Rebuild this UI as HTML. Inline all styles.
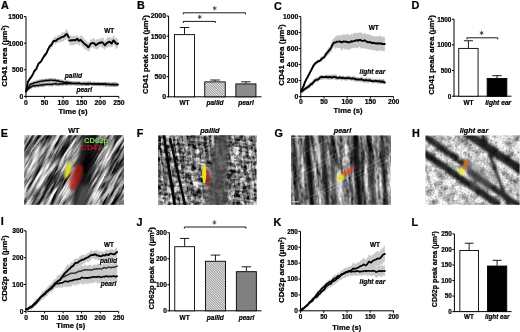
<!DOCTYPE html>
<html><head><meta charset="utf-8"><style>
html,body{margin:0;padding:0;background:#fff;width:520px;height:332px;overflow:hidden;}
body{position:relative;font-family:"Liberation Sans",sans-serif;}
</style></head><body>
<div style="position:absolute;left:0;top:0;width:520px;height:332px">
<svg width="520" height="332" viewBox="0 0 520 332" style="position:absolute;left:0;top:0;will-change:transform">
<defs><pattern id="hatch" patternUnits="userSpaceOnUse" width="1.7" height="1.7" patternTransform="rotate(-45)"><rect width="1.7" height="1.7" fill="#eee"/><line x1="0" y1="0" x2="0" y2="1.7" stroke="#333" stroke-width="0.85"/></pattern></defs>
<g font-family='"Liberation Sans", sans-serif'>
<text transform="translate(0.90 9.20) scale(0.1)" font-size="108.0" text-anchor="start" font-weight="bold" fill="#000" stroke="#000" stroke-width="2.20">A</text>
<text transform="translate(137.00 9.20) scale(0.1)" font-size="108.0" text-anchor="start" font-weight="bold" fill="#000" stroke="#000" stroke-width="2.20">B</text>
<text transform="translate(274.00 9.50) scale(0.1)" font-size="108.0" text-anchor="start" font-weight="bold" fill="#000" stroke="#000" stroke-width="2.20">C</text>
<text transform="translate(411.60 9.30) scale(0.1)" font-size="108.0" text-anchor="start" font-weight="bold" fill="#000" stroke="#000" stroke-width="2.20">D</text>
<text transform="translate(0.80 137.00) scale(0.1)" font-size="108.0" text-anchor="start" font-weight="bold" fill="#000" stroke="#000" stroke-width="2.20">E</text>
<text transform="translate(136.80 137.00) scale(0.1)" font-size="108.0" text-anchor="start" font-weight="bold" fill="#000" stroke="#000" stroke-width="2.20">F</text>
<text transform="translate(274.60 137.00) scale(0.1)" font-size="108.0" text-anchor="start" font-weight="bold" fill="#000" stroke="#000" stroke-width="2.20">G</text>
<text transform="translate(412.00 137.00) scale(0.1)" font-size="108.0" text-anchor="start" font-weight="bold" fill="#000" stroke="#000" stroke-width="2.20">H</text>
<text transform="translate(0.80 225.00) scale(0.1)" font-size="108.0" text-anchor="start" font-weight="bold" fill="#000" stroke="#000" stroke-width="2.20">I</text>
<text transform="translate(136.60 225.90) scale(0.1)" font-size="108.0" text-anchor="start" font-weight="bold" fill="#000" stroke="#000" stroke-width="2.20">J</text>
<text transform="translate(273.60 225.60) scale(0.1)" font-size="108.0" text-anchor="start" font-weight="bold" fill="#000" stroke="#000" stroke-width="2.20">K</text>
<text transform="translate(411.60 225.60) scale(0.1)" font-size="108.0" text-anchor="start" font-weight="bold" fill="#000" stroke="#000" stroke-width="2.20">L</text>
<line x1="26.00" y1="16.60" x2="26.00" y2="96.90" stroke="#000" stroke-width="1.0"/>
<line x1="25.50" y1="96.40" x2="118.80" y2="96.40" stroke="#000" stroke-width="1.0"/>
<line x1="24.00" y1="96.40" x2="26.00" y2="96.40" stroke="#000" stroke-width="1.0"/>
<text transform="translate(23.40 98.85) scale(0.1)" font-size="68.0" text-anchor="end" font-weight="bold" fill="#000" stroke="#000" stroke-width="2.20">0</text>
<line x1="24.00" y1="69.80" x2="26.00" y2="69.80" stroke="#000" stroke-width="1.0"/>
<text transform="translate(23.40 72.25) scale(0.1)" font-size="68.0" text-anchor="end" font-weight="bold" fill="#000" stroke="#000" stroke-width="2.20">500</text>
<line x1="24.00" y1="43.20" x2="26.00" y2="43.20" stroke="#000" stroke-width="1.0"/>
<text transform="translate(23.40 45.65) scale(0.1)" font-size="68.0" text-anchor="end" font-weight="bold" fill="#000" stroke="#000" stroke-width="2.20">1000</text>
<line x1="24.00" y1="16.60" x2="26.00" y2="16.60" stroke="#000" stroke-width="1.0"/>
<text transform="translate(23.40 19.05) scale(0.1)" font-size="68.0" text-anchor="end" font-weight="bold" fill="#000" stroke="#000" stroke-width="2.20">1500</text>
<line x1="26.00" y1="96.40" x2="26.00" y2="98.40" stroke="#000" stroke-width="1.0"/>
<text transform="translate(26.00 104.60) scale(0.1)" font-size="68.0" text-anchor="middle" font-weight="bold" fill="#000" stroke="#000" stroke-width="2.20">0</text>
<line x1="44.56" y1="96.40" x2="44.56" y2="98.40" stroke="#000" stroke-width="1.0"/>
<text transform="translate(44.56 104.60) scale(0.1)" font-size="68.0" text-anchor="middle" font-weight="bold" fill="#000" stroke="#000" stroke-width="2.20">50</text>
<line x1="63.12" y1="96.40" x2="63.12" y2="98.40" stroke="#000" stroke-width="1.0"/>
<text transform="translate(63.12 104.60) scale(0.1)" font-size="68.0" text-anchor="middle" font-weight="bold" fill="#000" stroke="#000" stroke-width="2.20">100</text>
<line x1="81.68" y1="96.40" x2="81.68" y2="98.40" stroke="#000" stroke-width="1.0"/>
<text transform="translate(81.68 104.60) scale(0.1)" font-size="68.0" text-anchor="middle" font-weight="bold" fill="#000" stroke="#000" stroke-width="2.20">150</text>
<line x1="100.24" y1="96.40" x2="100.24" y2="98.40" stroke="#000" stroke-width="1.0"/>
<text transform="translate(100.24 104.60) scale(0.1)" font-size="68.0" text-anchor="middle" font-weight="bold" fill="#000" stroke="#000" stroke-width="2.20">200</text>
<line x1="118.80" y1="96.40" x2="118.80" y2="98.40" stroke="#000" stroke-width="1.0"/>
<text transform="translate(118.80 104.60) scale(0.1)" font-size="68.0" text-anchor="middle" font-weight="bold" fill="#000" stroke="#000" stroke-width="2.20">250</text>
<text transform="translate(7.00 56.00) rotate(-90) scale(0.1)" font-size="80.0" text-anchor="middle" font-weight="bold" fill="#000" stroke="#000" stroke-width="2.20">CD41 area (μm<tspan baseline-shift="super" font-size="46.0">2</tspan>)</text>
<text transform="translate(73.00 114.00) scale(0.1)" font-size="76.0" text-anchor="middle" font-weight="bold" fill="#000" stroke="#000" stroke-width="2.20">Time (s)</text>
<polygon points="26.00,89.61 26.95,85.81 27.90,81.10 28.77,79.30 29.63,77.83 30.50,76.49 31.20,75.79 31.90,74.63 32.60,73.15 33.30,72.00 34.00,70.44 34.76,69.15 35.51,68.47 36.27,67.91 37.02,66.67 37.78,63.95 38.53,61.98 39.29,61.24 40.04,60.91 40.80,60.40 41.51,58.82 42.22,57.62 42.93,57.19 43.64,53.69 44.36,53.14 45.07,53.01 45.78,51.87 46.49,51.12 47.20,48.78 48.13,47.30 49.07,45.01 50.00,43.16 50.72,43.99 51.44,42.05 52.16,40.40 52.88,39.04 53.60,37.64 54.40,37.83 55.20,36.11 56.00,37.05 56.75,37.00 57.50,35.16 58.25,35.10 59.00,35.35 60.00,34.67 61.00,34.40 61.87,31.88 62.73,32.47 63.60,32.26 64.55,31.79 65.50,30.86 66.70,27.93 67.47,30.73 68.23,30.90 69.00,32.83 69.00,42.32 68.23,42.11 67.47,39.84 66.70,38.74 65.50,39.94 64.55,40.00 63.60,41.01 62.73,41.83 61.87,41.73 61.00,42.26 60.00,41.53 59.00,43.19 58.25,42.72 57.50,43.14 56.75,43.22 56.00,44.08 55.20,44.83 54.40,43.33 53.60,43.93 52.88,45.67 52.16,47.38 51.44,47.17 50.72,49.14 50.00,49.21 49.07,49.48 48.13,51.92 47.20,53.25 46.49,56.30 45.78,56.43 45.07,57.74 44.36,57.01 43.64,58.33 42.93,59.50 42.22,61.27 41.51,61.60 40.80,62.37 40.04,64.25 39.29,64.54 38.53,65.55 37.78,66.86 37.02,68.53 36.27,71.08 35.51,70.52 34.76,73.52 34.00,73.01 33.30,75.39 32.60,77.00 31.90,77.30 31.20,78.79 30.50,79.82 29.63,80.75 28.77,81.80 27.90,84.13 26.95,88.58 26.00,92.25" fill="#cacaca"/>
<polygon points="69.40,34.39 70.22,35.65 71.04,34.49 71.86,36.73 72.68,35.88 73.50,35.22 74.25,35.38 75.00,36.55 75.75,35.45 76.50,35.80 77.25,34.26 78.00,35.90 78.75,37.34 79.50,37.22 80.25,34.84 81.00,36.33 81.80,35.21 82.60,36.65 83.40,36.67 84.20,39.81 85.00,39.05 85.83,40.37 86.65,40.73 87.47,42.00 88.30,42.43 89.03,42.20 89.77,42.12 90.50,39.37 91.40,39.35 92.30,39.21 93.20,38.44 94.03,37.90 94.87,39.12 95.70,41.59 96.63,38.94 97.57,39.02 98.50,39.40 99.33,38.93 100.15,38.47 100.97,38.41 101.80,37.86 102.58,37.28 103.35,37.82 104.12,39.33 104.90,41.45 105.95,39.15 107.00,37.89 107.73,37.48 108.47,36.70 109.20,37.08 110.03,36.70 110.87,38.64 111.70,37.27 112.60,37.52 113.50,35.43 114.28,35.24 115.05,38.07 115.82,38.49 116.60,37.46 117.30,39.06 118.00,39.18 118.00,47.03 117.30,47.83 116.60,48.75 115.82,49.16 115.05,45.88 114.28,45.32 113.50,45.01 112.60,46.49 111.70,47.46 110.87,46.40 110.03,47.80 109.20,47.09 108.47,46.28 107.73,47.25 107.00,48.25 105.95,47.18 104.90,50.17 104.12,48.73 103.35,48.21 102.58,48.28 101.80,47.08 100.97,47.28 100.15,45.65 99.33,47.82 98.50,48.49 97.57,50.30 96.63,48.50 95.70,49.24 94.87,48.58 94.03,48.40 93.20,47.33 92.30,46.80 91.40,47.85 90.50,48.32 89.77,50.45 89.03,51.24 88.30,51.78 87.47,50.39 86.65,50.50 85.83,49.77 85.00,48.83 84.20,49.39 83.40,47.52 82.60,45.75 81.80,47.22 81.00,45.04 80.25,43.08 79.50,46.45 78.75,44.96 78.00,43.96 77.25,44.22 76.50,44.50 75.75,42.94 75.00,45.28 74.25,44.85 73.50,45.58 72.68,44.89 71.86,45.62 71.04,45.31 70.22,45.47 69.40,44.68" fill="#cacaca"/>
<polygon points="26.00,89.54 27.00,88.01 28.00,85.77 28.77,84.88 29.53,83.02 30.30,82.35 31.08,82.19 31.87,81.82 32.65,81.47 33.43,81.53 34.22,80.85 35.00,80.92 35.73,80.85 36.45,80.56 37.17,80.38 37.90,80.08 38.62,79.58 39.35,79.72 40.07,79.55 40.80,79.14 41.54,79.20 42.29,79.36 43.03,78.84 43.77,79.13 44.51,79.30 45.26,78.47 46.00,78.55 46.75,78.51 47.50,79.00 48.25,78.57 49.00,78.58 49.75,78.12 50.50,78.19 51.25,78.20 52.00,77.82 52.75,78.90 53.50,78.71 54.25,77.96 55.00,78.47 55.70,78.59 56.40,79.03 57.10,79.08 57.80,78.51 58.50,79.01 59.20,79.70 59.90,79.36 60.60,79.43 61.30,79.47 62.00,79.58 62.71,79.99 63.43,80.52 64.14,80.39 64.86,80.48 65.57,80.84 66.29,80.15 67.00,80.19 67.71,80.66 68.43,80.87 69.14,80.56 69.86,80.73 70.57,81.08 71.29,81.34 72.00,81.08 72.72,81.39 73.44,81.13 74.17,81.53 74.89,81.41 75.61,81.52 76.33,81.34 77.06,81.76 77.78,81.70 78.50,81.22 79.22,81.59 79.94,81.42 80.67,81.71 81.39,81.89 82.11,82.09 82.83,81.63 83.56,81.75 84.28,81.79 85.00,81.33 85.71,81.77 86.43,81.53 87.14,81.78 87.86,81.37 88.57,81.14 89.29,81.69 90.00,81.59 90.71,81.48 91.43,81.95 92.14,81.91 92.86,81.90 93.57,82.13 94.29,81.47 95.00,81.88 95.71,82.13 96.43,82.59 97.14,82.13 97.86,82.21 98.57,81.74 99.29,82.15 100.00,82.61 100.72,82.03 101.44,82.74 102.16,81.98 102.88,82.18 103.60,82.09 104.32,82.17 105.04,81.73 105.76,81.57 106.48,82.36 107.20,82.50 107.92,82.66 108.64,83.23 109.36,82.76 110.08,82.84 110.80,82.85 111.52,82.56 112.24,82.71 112.96,82.02 113.68,82.29 114.40,81.64 115.12,82.86 115.84,82.45 116.56,82.69 117.28,82.97 118.00,82.57 118.00,86.17 117.28,86.42 116.56,86.16 115.84,86.56 115.12,86.40 114.40,86.63 113.68,86.30 112.96,86.25 112.24,86.14 111.52,86.47 110.80,85.95 110.08,86.87 109.36,86.58 108.64,85.92 107.92,86.29 107.20,86.22 106.48,85.67 105.76,86.02 105.04,85.83 104.32,85.54 103.60,86.32 102.88,85.36 102.16,85.84 101.44,85.76 100.72,86.43 100.00,86.29 99.29,86.06 98.57,85.71 97.86,85.76 97.14,85.96 96.43,86.08 95.71,85.72 95.00,85.67 94.29,85.77 93.57,85.70 92.86,85.79 92.14,85.29 91.43,85.52 90.71,85.16 90.00,85.06 89.29,85.74 88.57,85.46 87.86,85.19 87.14,85.42 86.43,85.66 85.71,85.81 85.00,85.61 84.28,85.53 83.56,85.08 82.83,86.07 82.11,86.13 81.39,85.18 80.67,85.56 79.94,85.72 79.22,85.27 78.50,85.12 77.78,85.55 77.06,85.43 76.33,85.13 75.61,85.36 74.89,85.45 74.17,85.11 73.44,84.92 72.72,85.07 72.00,84.82 71.29,85.27 70.57,84.42 69.86,84.96 69.14,84.55 68.43,84.67 67.71,84.45 67.00,83.89 66.29,84.21 65.57,83.94 64.86,84.05 64.14,84.68 63.43,84.18 62.71,83.74 62.00,83.67 61.30,83.66 60.60,83.31 59.90,83.61 59.20,83.13 58.50,83.28 57.80,82.87 57.10,82.70 56.40,83.11 55.70,82.39 55.00,82.00 54.25,82.53 53.50,82.46 52.75,82.23 52.00,81.53 51.25,82.00 50.50,81.90 49.75,82.26 49.00,82.18 48.25,82.38 47.50,82.34 46.75,82.35 46.00,82.56 45.26,82.02 44.51,82.59 43.77,82.82 43.03,83.08 42.29,83.06 41.54,83.42 40.80,82.68 40.07,83.33 39.35,83.80 38.62,83.49 37.90,84.02 37.17,84.42 36.45,83.99 35.73,84.43 35.00,84.73 34.22,84.78 33.43,85.29 32.65,85.76 31.87,85.83 31.08,86.01 30.30,86.38 29.53,87.45 28.77,88.33 28.00,89.34 27.00,91.59 26.00,93.34" fill="#a0a0a0"/>
<polygon points="26.00,89.57 27.00,88.77 28.00,87.24 28.77,86.61 29.53,85.71 30.30,85.22 31.12,84.89 31.95,84.70 32.77,84.24 33.60,84.02 34.31,83.89 35.02,84.16 35.73,83.65 36.44,83.48 37.16,83.71 37.87,83.57 38.58,83.47 39.29,83.33 40.00,83.21 40.71,83.30 41.42,83.16 42.13,82.84 42.84,83.22 43.56,83.04 44.27,82.50 44.98,82.81 45.69,82.48 46.40,82.42 47.11,82.66 47.82,82.75 48.53,82.28 49.24,82.55 49.96,82.17 50.67,83.09 51.38,82.25 52.09,82.73 52.80,82.02 53.51,82.48 54.22,82.51 54.93,81.22 55.64,81.65 56.36,82.12 57.07,82.22 57.78,82.06 58.49,82.80 59.20,82.13 59.91,81.73 60.62,82.26 61.33,81.52 62.04,82.17 62.76,81.58 63.47,81.86 64.18,81.98 64.89,81.79 65.60,81.47 66.31,81.44 67.02,82.12 67.73,81.90 68.44,81.51 69.16,81.84 69.87,81.65 70.58,81.71 71.29,81.09 72.00,81.47 72.72,81.89 73.44,81.94 74.16,82.07 74.88,81.12 75.60,81.61 76.32,81.83 77.04,82.27 77.76,81.51 78.48,81.52 79.20,81.63 79.92,81.86 80.64,81.70 81.36,82.17 82.08,81.58 82.80,81.82 83.52,81.63 84.24,81.90 84.96,81.77 85.68,81.66 86.40,82.28 87.12,82.16 87.84,81.87 88.56,82.18 89.28,82.14 90.00,81.66 90.70,81.69 91.40,82.08 92.10,82.23 92.80,82.08 93.50,81.38 94.20,81.98 94.90,81.99 95.60,82.02 96.30,82.11 97.00,82.14 97.70,82.03 98.40,81.81 99.10,81.94 99.80,81.88 100.50,81.99 101.20,81.91 101.90,82.55 102.60,82.07 103.30,82.48 104.00,82.06 104.70,82.41 105.40,82.90 106.10,82.69 106.80,82.51 107.50,82.55 108.20,82.48 108.90,81.96 109.60,82.28 110.30,82.58 111.00,82.57 111.70,82.81 112.40,83.16 113.10,83.09 113.80,83.10 114.50,83.10 115.20,82.81 115.90,82.86 116.60,82.59 117.30,82.78 118.00,82.92 118.00,86.96 117.30,86.58 116.60,86.32 115.90,86.72 115.20,86.67 114.50,86.40 113.80,87.00 113.10,86.80 112.40,86.73 111.70,86.72 111.00,86.51 110.30,86.65 109.60,86.38 108.90,86.60 108.20,86.34 107.50,86.19 106.80,86.58 106.10,86.73 105.40,86.90 104.70,86.12 104.00,85.96 103.30,86.49 102.60,85.98 101.90,86.02 101.20,85.91 100.50,85.73 99.80,85.86 99.10,86.28 98.40,85.98 97.70,85.77 97.00,85.56 96.30,86.28 95.60,86.02 94.90,86.00 94.20,85.62 93.50,85.71 92.80,86.41 92.10,86.29 91.40,85.55 90.70,85.31 90.00,85.62 89.28,85.55 88.56,86.26 87.84,85.86 87.12,86.03 86.40,85.99 85.68,85.86 84.96,85.98 84.24,85.62 83.52,85.53 82.80,85.68 82.08,85.70 81.36,85.64 80.64,85.08 79.92,85.26 79.20,85.22 78.48,85.43 77.76,85.69 77.04,85.45 76.32,85.50 75.60,85.18 74.88,85.22 74.16,85.09 73.44,85.10 72.72,85.29 72.00,85.43 71.29,85.38 70.58,85.34 69.87,85.38 69.16,85.28 68.44,85.84 67.73,85.24 67.02,85.60 66.31,85.99 65.60,85.43 64.89,85.62 64.18,85.28 63.47,85.45 62.76,86.01 62.04,86.31 61.33,85.50 60.62,85.39 59.91,85.71 59.20,86.13 58.49,85.88 57.78,85.87 57.07,86.25 56.36,86.03 55.64,85.94 54.93,85.87 54.22,85.28 53.51,85.85 52.80,86.48 52.09,86.55 51.38,86.21 50.67,86.47 49.96,86.18 49.24,86.03 48.53,86.45 47.82,86.27 47.11,86.26 46.40,85.75 45.69,86.23 44.98,86.48 44.27,86.42 43.56,86.95 42.84,86.77 42.13,86.95 41.42,86.97 40.71,87.16 40.00,86.52 39.29,87.42 38.58,87.27 37.87,87.49 37.16,87.32 36.44,86.79 35.73,88.21 35.02,87.87 34.31,87.25 33.60,87.64 32.77,87.28 31.95,88.78 31.12,88.60 30.30,89.35 29.53,89.79 28.77,90.21 28.00,90.92 27.00,92.06 26.00,92.97" fill="#a0a0a0"/>
<polyline points="26.00,91.50 27.00,89.81 28.00,87.65 28.77,86.58 29.53,85.39 30.30,84.47 31.08,84.09 31.87,83.98 32.65,83.63 33.43,83.27 34.22,82.92 35.00,82.66 35.73,82.57 36.45,82.38 37.17,82.16 37.90,82.01 38.62,81.83 39.35,81.63 40.07,81.34 40.80,81.17 41.54,81.12 42.29,81.08 43.03,80.96 43.77,80.87 44.51,80.73 45.26,80.51 46.00,80.42 46.75,80.44 47.50,80.52 48.25,80.39 49.00,80.26 49.75,80.19 50.50,80.09 51.25,80.11 52.00,80.16 52.75,80.44 53.50,80.39 54.25,80.29 55.00,80.19 55.70,80.52 56.40,80.81 57.10,80.89 57.80,80.78 58.50,80.96 59.20,81.22 59.90,81.40 60.60,81.59 61.30,81.70 62.00,81.79 62.71,81.81 63.43,81.99 64.14,82.18 64.86,82.32 65.57,82.18 66.29,82.18 67.00,82.26 67.71,82.42 68.43,82.63 69.14,82.72 69.86,82.92 70.57,82.91 71.29,83.18 72.00,83.31 72.72,83.34 73.44,83.16 74.17,83.31 74.89,83.34 75.61,83.44 76.33,83.33 77.06,83.39 77.78,83.25 78.50,83.22 79.22,83.28 79.94,83.51 80.67,83.60 81.39,83.60 82.11,83.61 82.83,83.62 83.56,83.67 84.28,83.64 85.00,83.60 85.71,83.67 86.43,83.59 87.14,83.59 87.86,83.55 88.57,83.54 89.29,83.58 90.00,83.43 90.71,83.52 91.43,83.63 92.14,83.88 92.86,83.96 93.57,83.91 94.29,83.76 95.00,83.95 95.71,84.04 96.43,84.28 97.14,84.07 97.86,84.03 98.57,83.80 99.29,83.97 100.00,84.09 100.72,84.10 101.44,84.05 102.16,84.05 102.88,84.08 103.60,83.94 104.32,83.82 105.04,83.94 105.76,83.99 106.48,84.11 107.20,84.20 107.92,84.40 108.64,84.48 109.36,84.61 110.08,84.67 110.80,84.52 111.52,84.36 112.24,84.19 112.96,84.23 113.68,84.29 114.40,84.40 115.12,84.56 115.84,84.45 116.56,84.36 117.28,84.33 118.00,84.47" fill="none" stroke="#000" stroke-width="1.4" stroke-linejoin="round" stroke-linecap="round"/>
<polyline points="26.00,91.50 27.00,90.24 28.00,89.03 28.77,88.55 29.53,87.90 30.30,87.32 31.12,86.74 31.95,86.36 32.77,86.03 33.60,85.79 34.31,85.80 35.02,85.72 35.73,85.64 36.44,85.52 37.16,85.39 37.87,85.46 38.58,85.44 39.29,85.38 40.00,85.18 40.71,85.04 41.42,84.97 42.13,85.05 42.84,85.02 43.56,84.89 44.27,84.65 44.98,84.52 45.69,84.45 46.40,84.41 47.11,84.36 47.82,84.32 48.53,84.36 49.24,84.35 49.96,84.29 50.67,84.41 51.38,84.27 52.09,84.34 52.80,84.08 53.51,84.18 54.22,83.86 54.93,83.76 55.64,83.66 56.36,83.90 57.07,84.14 57.78,84.13 58.49,84.16 59.20,84.01 59.91,84.04 60.62,83.95 61.33,83.85 62.04,83.79 62.76,83.63 63.47,83.72 64.18,83.57 64.89,83.66 65.60,83.72 66.31,83.76 67.02,83.72 67.73,83.62 68.44,83.62 69.16,83.52 69.87,83.42 70.58,83.45 71.29,83.56 72.00,83.45 72.72,83.56 73.44,83.66 74.16,83.75 74.88,83.63 75.60,83.47 76.32,83.60 77.04,83.54 77.76,83.65 78.48,83.50 79.20,83.52 79.92,83.54 80.64,83.71 81.36,83.78 82.08,83.68 82.80,83.65 83.52,83.66 84.24,83.76 84.96,83.84 85.68,83.96 86.40,83.90 87.12,83.99 87.84,83.91 88.56,84.03 89.28,83.80 90.00,83.81 90.70,83.61 91.40,83.85 92.10,84.00 92.80,84.07 93.50,83.81 94.20,83.57 94.90,83.81 95.60,83.92 96.30,84.08 97.00,83.98 97.70,84.03 98.40,83.97 99.10,84.02 99.80,83.93 100.50,84.05 101.20,84.10 101.90,84.29 102.60,84.30 103.30,84.22 104.00,84.22 104.70,84.22 105.40,84.46 106.10,84.54 106.80,84.59 107.50,84.44 108.20,84.34 108.90,84.29 109.60,84.33 110.30,84.44 111.00,84.59 111.70,84.69 112.40,84.88 113.10,84.79 113.80,84.77 114.50,84.86 115.20,84.78 115.90,84.76 116.60,84.56 117.30,84.76 118.00,84.86" fill="none" stroke="#000" stroke-width="1.4" stroke-linejoin="round" stroke-linecap="round"/>
<polyline points="26.00,91.50 26.95,86.99 27.90,82.03 28.77,80.37 29.63,79.16 30.50,77.92 31.20,77.22 31.90,75.84 32.60,74.73 33.30,73.36 34.00,71.66 34.76,70.65 35.51,69.59 36.27,69.12 37.02,67.16 37.78,65.29 38.53,63.69 39.29,62.93 40.04,62.42 40.80,61.53 41.51,60.67 42.22,59.19 42.93,58.13 43.64,56.91 44.36,55.72 45.07,54.99 45.78,53.87 46.49,53.28 47.20,51.36 48.13,49.45 49.07,47.46 50.00,46.12 50.72,45.56 51.44,44.75 52.16,43.64 52.88,42.13 53.60,40.89 54.40,41.09 55.20,40.80 56.00,40.71 56.75,40.01 57.50,39.34 58.25,38.83 59.00,38.66 60.00,38.14 61.00,37.67 61.87,36.86 62.73,36.87 63.60,36.76 64.55,35.93 65.50,34.87 66.70,33.98 67.47,34.98 68.23,36.51 69.00,37.47" fill="none" stroke="#000" stroke-width="1.9" stroke-linejoin="round" stroke-linecap="round"/>
<polyline points="69.40,40.50 70.22,40.42 71.04,40.29 71.86,40.66 72.68,40.16 73.50,40.15 74.25,39.89 75.00,40.47 75.75,39.90 76.50,39.37 77.25,38.80 78.00,39.67 78.75,40.79 79.50,40.59 80.25,39.81 81.00,40.21 81.80,41.02 82.60,41.90 83.40,42.54 84.20,43.56 85.00,44.41 85.83,44.88 86.65,45.37 87.47,46.52 88.30,47.34 89.03,46.53 89.77,45.37 90.50,43.84 91.40,43.48 92.30,43.01 93.20,43.08 94.03,43.28 94.87,44.01 95.70,45.34 96.63,44.59 97.57,43.93 98.50,43.19 99.33,42.87 100.15,42.97 100.97,42.35 101.80,42.24 102.58,42.61 103.35,43.41 104.12,44.27 104.90,45.31 105.95,44.04 107.00,43.02 107.73,42.52 108.47,42.27 109.20,41.66 110.03,42.03 110.87,42.89 111.70,43.42 112.60,41.79 113.50,40.38 114.28,41.10 115.05,42.07 115.82,43.18 116.60,43.53 117.30,44.17 118.00,43.47" fill="none" stroke="#000" stroke-width="1.9" stroke-linejoin="round" stroke-linecap="round"/>
<text transform="translate(109.30 33.10) scale(0.1)" font-size="64.0" text-anchor="middle" font-weight="bold" fill="#000" stroke="#000" stroke-width="2.20">WT</text>
<text transform="translate(73.40 78.20) scale(0.1)" font-size="66.0" text-anchor="middle" font-weight="bold" font-style="italic" fill="#000" stroke="#000" stroke-width="2.20">pallid</text>
<text transform="translate(84.30 92.30) scale(0.1)" font-size="66.0" text-anchor="middle" font-weight="bold" font-style="italic" fill="#000" stroke="#000" stroke-width="2.20">pearl</text>
<line x1="168.60" y1="16.00" x2="168.60" y2="97.30" stroke="#000" stroke-width="1.0"/>
<line x1="168.10" y1="96.80" x2="261.50" y2="96.80" stroke="#000" stroke-width="1.0"/>
<line x1="166.60" y1="96.80" x2="168.60" y2="96.80" stroke="#000" stroke-width="1.0"/>
<text transform="translate(166.00 99.28) scale(0.1)" font-size="69.0" text-anchor="end" font-weight="bold" fill="#000" stroke="#000" stroke-width="2.20">0</text>
<line x1="166.60" y1="76.60" x2="168.60" y2="76.60" stroke="#000" stroke-width="1.0"/>
<text transform="translate(166.00 79.08) scale(0.1)" font-size="69.0" text-anchor="end" font-weight="bold" fill="#000" stroke="#000" stroke-width="2.20">500</text>
<line x1="166.60" y1="56.40" x2="168.60" y2="56.40" stroke="#000" stroke-width="1.0"/>
<text transform="translate(166.00 58.88) scale(0.1)" font-size="69.0" text-anchor="end" font-weight="bold" fill="#000" stroke="#000" stroke-width="2.20">1000</text>
<line x1="166.60" y1="36.20" x2="168.60" y2="36.20" stroke="#000" stroke-width="1.0"/>
<text transform="translate(166.00 38.68) scale(0.1)" font-size="69.0" text-anchor="end" font-weight="bold" fill="#000" stroke="#000" stroke-width="2.20">1500</text>
<line x1="166.60" y1="16.00" x2="168.60" y2="16.00" stroke="#000" stroke-width="1.0"/>
<text transform="translate(166.00 18.48) scale(0.1)" font-size="69.0" text-anchor="end" font-weight="bold" fill="#000" stroke="#000" stroke-width="2.20">2000</text>
<text transform="translate(147.80 54.60) rotate(-90) scale(0.1)" font-size="77.0" text-anchor="middle" font-weight="bold" fill="#000" stroke="#000" stroke-width="2.20">CD41 peak area (μm<tspan baseline-shift="super" font-size="45.0">2</tspan>)</text>
<line x1="184.50" y1="34.18" x2="184.50" y2="27.51" stroke="#000" stroke-width="0.9"/>
<line x1="179.78" y1="27.51" x2="189.22" y2="27.51" stroke="#000" stroke-width="0.9"/>
<rect x="174.45" y="34.63" width="20.10" height="62.17" fill="#fff" stroke="#000" stroke-width="0.9"/>
<line x1="215.00" y1="81.45" x2="215.00" y2="80.03" stroke="#000" stroke-width="0.9"/>
<line x1="210.19" y1="80.03" x2="219.81" y2="80.03" stroke="#000" stroke-width="0.9"/>
<rect x="204.75" y="81.90" width="20.50" height="14.90" fill="url(#hatch)" stroke="#000" stroke-width="0.9"/>
<line x1="245.90" y1="83.47" x2="245.90" y2="81.85" stroke="#000" stroke-width="0.9"/>
<line x1="241.17" y1="81.85" x2="250.62" y2="81.85" stroke="#000" stroke-width="0.9"/>
<rect x="235.85" y="83.92" width="20.10" height="12.88" fill="#8c8c8c" stroke="#000" stroke-width="0.9"/>
<text transform="translate(184.50 105.30) scale(0.1)" font-size="65.0" text-anchor="middle" font-weight="bold" fill="#000" stroke="#000" stroke-width="2.20">WT</text>
<text transform="translate(215.00 105.30) scale(0.1)" font-size="65.0" text-anchor="middle" font-weight="bold" font-style="italic" fill="#000" stroke="#000" stroke-width="2.20">pallid</text>
<text transform="translate(246.00 105.30) scale(0.1)" font-size="65.0" text-anchor="middle" font-weight="bold" font-style="italic" fill="#000" stroke="#000" stroke-width="2.20">pearl</text>
<polyline points="183.30,14.40 183.30,12.80 245.40,12.80 245.40,14.40" fill="none" stroke="#000" stroke-width="0.9"/>
<line x1="214.70" y1="6.20" x2="214.70" y2="10.40" stroke="#444" stroke-width="0.9"/>
<line x1="216.52" y1="7.25" x2="212.88" y2="9.35" stroke="#444" stroke-width="0.9"/>
<line x1="216.52" y1="9.35" x2="212.88" y2="7.25" stroke="#444" stroke-width="0.9"/>
<polyline points="183.30,23.00 183.30,21.40 215.30,21.40 215.30,23.00" fill="none" stroke="#000" stroke-width="0.9"/>
<line x1="199.70" y1="14.80" x2="199.70" y2="19.00" stroke="#444" stroke-width="0.9"/>
<line x1="201.52" y1="15.85" x2="197.88" y2="17.95" stroke="#444" stroke-width="0.9"/>
<line x1="201.52" y1="17.95" x2="197.88" y2="15.85" stroke="#444" stroke-width="0.9"/>
<line x1="300.80" y1="16.60" x2="300.80" y2="97.10" stroke="#000" stroke-width="1.0"/>
<line x1="300.30" y1="96.60" x2="393.60" y2="96.60" stroke="#000" stroke-width="1.0"/>
<line x1="298.80" y1="96.60" x2="300.80" y2="96.60" stroke="#000" stroke-width="1.0"/>
<text transform="translate(298.20 99.05) scale(0.1)" font-size="68.0" text-anchor="end" font-weight="bold" fill="#000" stroke="#000" stroke-width="2.20">0</text>
<line x1="298.80" y1="80.60" x2="300.80" y2="80.60" stroke="#000" stroke-width="1.0"/>
<text transform="translate(298.20 83.05) scale(0.1)" font-size="68.0" text-anchor="end" font-weight="bold" fill="#000" stroke="#000" stroke-width="2.20">200</text>
<line x1="298.80" y1="64.60" x2="300.80" y2="64.60" stroke="#000" stroke-width="1.0"/>
<text transform="translate(298.20 67.05) scale(0.1)" font-size="68.0" text-anchor="end" font-weight="bold" fill="#000" stroke="#000" stroke-width="2.20">400</text>
<line x1="298.80" y1="48.60" x2="300.80" y2="48.60" stroke="#000" stroke-width="1.0"/>
<text transform="translate(298.20 51.05) scale(0.1)" font-size="68.0" text-anchor="end" font-weight="bold" fill="#000" stroke="#000" stroke-width="2.20">600</text>
<line x1="298.80" y1="32.60" x2="300.80" y2="32.60" stroke="#000" stroke-width="1.0"/>
<text transform="translate(298.20 35.05) scale(0.1)" font-size="68.0" text-anchor="end" font-weight="bold" fill="#000" stroke="#000" stroke-width="2.20">800</text>
<line x1="298.80" y1="16.60" x2="300.80" y2="16.60" stroke="#000" stroke-width="1.0"/>
<text transform="translate(298.20 19.05) scale(0.1)" font-size="68.0" text-anchor="end" font-weight="bold" fill="#000" stroke="#000" stroke-width="2.20">1000</text>
<line x1="300.80" y1="96.60" x2="300.80" y2="98.60" stroke="#000" stroke-width="1.0"/>
<text transform="translate(300.80 104.40) scale(0.1)" font-size="68.0" text-anchor="middle" font-weight="bold" fill="#000" stroke="#000" stroke-width="2.20">0</text>
<line x1="324.00" y1="96.60" x2="324.00" y2="98.60" stroke="#000" stroke-width="1.0"/>
<text transform="translate(324.00 104.40) scale(0.1)" font-size="68.0" text-anchor="middle" font-weight="bold" fill="#000" stroke="#000" stroke-width="2.20">50</text>
<line x1="347.20" y1="96.60" x2="347.20" y2="98.60" stroke="#000" stroke-width="1.0"/>
<text transform="translate(347.20 104.40) scale(0.1)" font-size="68.0" text-anchor="middle" font-weight="bold" fill="#000" stroke="#000" stroke-width="2.20">100</text>
<line x1="370.40" y1="96.60" x2="370.40" y2="98.60" stroke="#000" stroke-width="1.0"/>
<text transform="translate(370.40 104.40) scale(0.1)" font-size="68.0" text-anchor="middle" font-weight="bold" fill="#000" stroke="#000" stroke-width="2.20">150</text>
<line x1="393.60" y1="96.60" x2="393.60" y2="98.60" stroke="#000" stroke-width="1.0"/>
<text transform="translate(393.60 104.40) scale(0.1)" font-size="68.0" text-anchor="middle" font-weight="bold" fill="#000" stroke="#000" stroke-width="2.20">200</text>
<text transform="translate(283.80 55.00) rotate(-90) scale(0.1)" font-size="80.0" text-anchor="middle" font-weight="bold" fill="#000" stroke="#000" stroke-width="2.20">CD41 area (μm<tspan baseline-shift="super" font-size="46.0">2</tspan>)</text>
<text transform="translate(348.00 112.80) scale(0.1)" font-size="76.0" text-anchor="middle" font-weight="bold" fill="#000" stroke="#000" stroke-width="2.20">Time (s)</text>
<polygon points="301.00,90.46 301.70,88.49 302.40,86.06 303.10,84.96 303.80,83.69 304.50,80.99 305.32,80.16 306.14,77.44 306.96,76.07 307.78,74.32 308.60,72.31 309.45,72.25 310.30,70.64 311.15,68.60 312.00,65.95 312.72,63.62 313.44,63.88 314.16,63.42 314.88,62.03 315.60,61.32 316.38,61.31 317.17,60.44 317.95,58.94 318.73,59.52 319.52,59.22 320.30,57.21 321.08,56.94 321.87,55.51 322.65,55.71 323.43,55.66 324.22,54.07 325.00,52.21 325.78,52.61 326.57,50.43 327.35,50.46 328.13,47.21 328.92,47.49 329.70,47.08 330.48,45.72 331.27,42.86 332.05,41.02 332.83,39.21 333.62,38.50 334.40,37.79 335.18,37.15 335.97,35.77 336.75,36.03 337.53,35.11 338.32,35.54 339.10,35.09 339.84,35.47 340.58,35.38 341.31,34.67 342.05,35.08 342.79,35.48 343.52,33.51 344.26,34.15 345.00,34.80 345.77,35.06 346.53,34.62 347.30,33.57 348.07,34.05 348.83,35.06 349.60,35.07 350.38,35.87 351.17,33.20 351.95,34.71 352.73,34.42 353.52,32.69 354.30,32.90 355.08,33.38 355.87,32.60 356.65,32.72 357.43,32.88 358.22,32.94 359.00,32.71 359.70,32.20 360.40,32.06 361.10,33.31 361.80,32.78 362.50,33.69 363.20,34.27 363.90,33.19 364.60,32.68 365.30,33.68 366.00,33.42 366.73,34.84 367.46,33.72 368.19,35.12 368.92,34.26 369.65,34.00 370.38,35.87 371.12,34.77 371.85,36.56 372.58,35.67 373.31,36.44 374.04,34.89 374.77,36.54 375.50,36.69 376.22,35.92 376.95,36.05 377.67,37.11 378.39,36.16 379.12,35.73 379.84,35.58 380.56,36.23 381.28,35.97 382.01,36.71 382.73,37.38 383.45,36.43 384.18,36.75 384.90,37.52 384.90,51.44 384.18,51.29 383.45,51.20 382.73,50.40 382.01,52.07 381.28,50.29 380.56,50.64 379.84,49.64 379.12,51.19 378.39,51.21 377.67,50.70 376.95,50.85 376.22,51.01 375.50,50.24 374.77,50.49 374.04,50.10 373.31,50.39 372.58,49.51 371.85,50.24 371.12,49.71 370.38,49.18 369.65,49.04 368.92,50.27 368.19,48.86 367.46,48.91 366.73,48.80 366.00,49.36 365.30,48.26 364.60,48.16 363.90,48.33 363.20,48.79 362.50,48.02 361.80,48.69 361.10,48.23 360.40,48.32 359.70,46.80 359.00,46.73 358.22,49.18 357.43,47.35 356.65,48.27 355.87,47.64 355.08,47.40 354.30,47.79 353.52,48.63 352.73,47.33 351.95,49.02 351.17,48.24 350.38,48.80 349.60,50.13 348.83,49.47 348.07,50.04 347.30,49.72 346.53,48.64 345.77,49.93 345.00,49.24 344.26,48.73 343.52,47.81 342.79,49.93 342.05,49.42 341.31,50.74 340.58,48.41 339.84,47.58 339.10,48.23 338.32,48.06 337.53,48.04 336.75,47.59 335.97,47.48 335.18,49.70 334.40,46.98 333.62,46.81 332.83,48.43 332.05,50.23 331.27,52.56 330.48,52.16 329.70,53.10 328.92,54.15 328.13,55.12 327.35,56.43 326.57,55.70 325.78,56.31 325.00,57.86 324.22,59.72 323.43,59.35 322.65,60.55 321.87,62.18 321.08,61.50 320.30,61.52 319.52,63.27 318.73,62.60 317.95,63.63 317.17,63.73 316.38,64.66 315.60,64.72 314.88,66.29 314.16,66.78 313.44,67.61 312.72,68.74 312.00,70.89 311.15,71.15 310.30,73.39 309.45,74.60 308.60,78.02 307.78,78.79 306.96,78.86 306.14,81.57 305.32,82.09 304.50,84.24 303.80,86.59 303.10,87.63 302.40,91.20 301.70,91.98 301.00,92.50" fill="#c4c4c4"/>
<polygon points="301.00,89.65 301.75,88.72 302.50,88.89 303.25,87.00 304.00,86.63 304.85,87.08 305.70,86.40 306.55,85.66 307.40,85.03 308.27,84.82 309.13,83.19 310.00,83.30 310.82,81.82 311.65,82.20 312.48,80.84 313.30,79.52 314.20,78.61 315.10,78.62 316.00,77.59 316.77,77.29 317.55,77.55 318.33,76.85 319.10,76.13 319.83,75.55 320.55,75.05 321.27,75.26 322.00,74.65 322.80,75.42 323.60,75.49 324.40,75.47 325.20,75.09 326.00,74.60 326.72,74.73 327.44,74.77 328.16,74.80 328.88,74.91 329.60,74.36 330.32,75.28 331.04,75.07 331.76,75.22 332.48,74.22 333.20,74.83 333.94,74.56 334.68,74.41 335.41,74.40 336.15,74.17 336.89,75.64 337.62,75.83 338.36,76.52 339.10,75.22 339.84,75.04 340.57,75.95 341.31,75.81 342.05,75.55 342.79,75.38 343.52,75.45 344.26,76.55 345.00,76.20 345.73,76.41 346.46,75.77 347.19,75.93 347.93,75.29 348.66,75.90 349.39,75.30 350.12,76.35 350.85,76.67 351.58,76.64 352.31,75.85 353.04,76.39 353.77,76.01 354.51,76.33 355.24,76.18 355.97,77.35 356.70,77.55 357.43,77.07 358.16,76.88 358.89,77.18 359.62,78.13 360.36,77.60 361.09,76.69 361.82,76.48 362.55,77.25 363.28,78.29 364.01,78.64 364.74,77.74 365.47,77.65 366.21,77.51 366.94,77.37 367.67,78.36 368.40,77.84 369.12,78.35 369.83,77.38 370.55,77.94 371.27,78.87 371.99,78.48 372.70,79.10 373.42,78.87 374.14,78.66 374.86,78.94 375.57,78.80 376.29,77.90 377.01,79.59 377.73,79.27 378.44,79.19 379.16,78.32 379.88,78.58 380.60,79.29 381.31,79.61 382.03,78.94 382.75,78.90 383.47,78.69 384.18,79.73 384.90,80.30 384.90,84.73 384.18,84.36 383.47,83.97 382.75,84.01 382.03,84.06 381.31,83.86 380.60,83.80 379.88,83.62 379.16,83.56 378.44,83.71 377.73,83.94 377.01,83.23 376.29,82.67 375.57,82.84 374.86,83.19 374.14,82.84 373.42,83.49 372.70,83.49 371.99,83.53 371.27,82.56 370.55,82.37 369.83,82.04 369.12,82.70 368.40,82.73 367.67,82.70 366.94,82.19 366.21,82.91 365.47,82.82 364.74,82.42 364.01,82.68 363.28,82.49 362.55,81.85 361.82,82.77 361.09,81.54 360.36,81.65 359.62,81.55 358.89,81.73 358.16,81.06 357.43,81.32 356.70,82.03 355.97,81.52 355.24,81.85 354.51,81.84 353.77,80.65 353.04,80.33 352.31,80.71 351.58,80.86 350.85,81.11 350.12,79.93 349.39,80.13 348.66,79.50 347.93,80.25 347.19,80.62 346.46,80.70 345.73,80.47 345.00,80.55 344.26,80.62 343.52,79.44 342.79,80.49 342.05,79.90 341.31,80.93 340.57,79.69 339.84,79.76 339.10,79.72 338.36,79.97 337.62,80.15 336.89,80.31 336.15,79.78 335.41,80.44 334.68,79.38 333.94,79.24 333.20,79.27 332.48,79.22 331.76,79.78 331.04,79.53 330.32,79.61 329.60,79.58 328.88,79.53 328.16,79.99 327.44,79.51 326.72,79.34 326.00,79.40 325.20,78.97 324.40,79.81 323.60,79.16 322.80,79.86 322.00,79.46 321.27,79.54 320.55,79.69 319.83,80.18 319.10,80.45 318.33,81.32 317.55,82.38 316.77,81.67 316.00,81.58 315.10,82.58 314.20,83.70 313.30,85.14 312.48,85.95 311.65,86.08 310.82,86.70 310.00,88.15 309.13,88.19 308.27,89.30 307.40,89.36 306.55,89.76 305.70,90.44 304.85,91.15 304.00,92.09 303.25,92.67 302.50,93.33 301.75,93.26 301.00,93.31" fill="#b4b4b4"/>
<polyline points="301.00,91.60 301.75,91.17 302.50,90.85 303.25,89.81 304.00,89.56 304.85,88.95 305.70,88.55 306.55,87.79 307.40,87.29 308.27,86.95 309.13,85.91 310.00,85.27 310.82,84.30 311.65,84.16 312.48,83.11 313.30,82.51 314.20,81.36 315.10,80.53 316.00,79.93 316.77,79.73 317.55,79.76 318.33,79.30 319.10,78.62 319.83,77.81 320.55,77.30 321.27,77.03 322.00,76.93 322.80,77.06 323.60,77.16 324.40,77.17 325.20,77.02 326.00,76.86 326.72,76.98 327.44,77.12 328.16,77.35 328.88,77.24 329.60,76.89 330.32,77.01 331.04,77.19 331.76,77.68 332.48,77.19 333.20,77.15 333.94,77.01 334.68,77.09 335.41,77.10 336.15,77.26 336.89,77.74 337.62,78.15 338.36,77.92 339.10,77.53 339.84,77.39 340.57,77.75 341.31,78.07 342.05,77.80 342.79,77.81 343.52,77.96 344.26,78.32 345.00,78.15 345.73,78.11 346.46,78.19 347.19,78.22 347.93,77.90 348.66,77.86 349.39,78.08 350.12,78.45 350.85,78.59 351.58,78.45 352.31,78.48 353.04,78.31 353.77,78.56 354.51,78.89 355.24,78.94 355.97,79.25 356.70,79.28 357.43,79.58 358.16,79.44 358.89,79.60 359.62,79.55 360.36,79.55 361.09,79.18 361.82,79.41 362.55,79.78 363.28,80.18 364.01,80.29 364.74,80.14 365.47,80.19 366.21,79.99 366.94,80.33 367.67,80.35 368.40,80.52 369.12,80.28 369.83,80.27 370.55,80.68 371.27,81.07 371.99,81.04 372.70,81.13 373.42,81.17 374.14,81.37 374.86,81.02 375.57,80.81 376.29,80.87 377.01,81.26 377.73,81.39 378.44,81.22 379.16,81.27 379.88,81.14 380.60,81.71 381.31,81.53 382.03,81.75 382.75,81.51 383.47,81.70 384.18,82.11 384.90,82.48" fill="none" stroke="#000" stroke-width="1.9" stroke-linejoin="round" stroke-linecap="round"/>
<polyline points="301.00,91.60 301.70,89.83 302.40,88.54 303.10,86.86 303.80,85.63 304.50,83.22 305.32,81.53 306.14,79.59 306.96,78.24 307.78,76.71 308.60,75.35 309.45,73.73 310.30,71.71 311.15,70.40 312.00,68.48 312.72,67.21 313.44,65.77 314.16,64.72 314.88,63.91 315.60,62.85 316.38,62.54 317.17,61.91 317.95,61.38 318.73,61.09 319.52,61.00 320.30,60.41 321.08,59.49 321.87,58.70 322.65,58.14 323.43,57.71 324.22,57.14 325.00,55.94 325.78,54.56 326.57,53.17 327.35,52.78 328.13,51.45 328.92,50.53 329.70,49.75 330.48,48.67 331.27,47.37 332.05,45.47 332.83,44.15 333.62,42.99 334.40,42.48 335.18,42.66 335.97,42.38 336.75,41.61 337.53,41.66 338.32,41.66 339.10,41.66 339.84,41.45 340.58,41.87 341.31,42.33 342.05,42.37 342.79,41.92 343.52,41.33 344.26,41.39 345.00,41.59 345.77,41.81 346.53,41.81 347.30,41.86 348.07,42.31 348.83,42.41 349.60,42.34 350.38,41.84 351.17,41.22 351.95,41.53 352.73,41.46 353.52,41.19 354.30,40.89 355.08,40.78 355.87,40.40 356.65,40.31 357.43,40.09 358.22,40.93 359.00,39.93 359.70,40.08 360.40,39.89 361.10,40.49 361.80,40.63 362.50,41.02 363.20,40.81 363.90,40.67 364.60,40.27 365.30,40.74 366.00,41.14 366.73,41.69 367.46,41.99 368.19,42.25 368.92,42.07 369.65,41.98 370.38,42.31 371.12,42.78 371.85,43.01 372.58,42.77 373.31,43.07 374.04,42.98 374.77,43.33 375.50,43.31 376.22,43.49 376.95,43.63 377.67,43.13 378.39,43.56 379.12,43.49 379.84,43.46 380.56,43.46 381.28,43.27 382.01,44.11 382.73,43.85 383.45,44.13 384.18,43.96 384.90,44.14" fill="none" stroke="#000" stroke-width="1.9" stroke-linejoin="round" stroke-linecap="round"/>
<text transform="translate(373.70 30.20) scale(0.1)" font-size="65.0" text-anchor="middle" font-weight="bold" fill="#000" stroke="#000" stroke-width="2.20">WT</text>
<text transform="translate(372.40 73.80) scale(0.1)" font-size="66.0" text-anchor="middle" font-weight="bold" font-style="italic" fill="#000" stroke="#000" stroke-width="2.20">light ear</text>
<line x1="454.00" y1="19.20" x2="454.00" y2="96.70" stroke="#000" stroke-width="1.0"/>
<line x1="453.50" y1="96.20" x2="511.50" y2="96.20" stroke="#000" stroke-width="1.0"/>
<line x1="452.00" y1="96.20" x2="454.00" y2="96.20" stroke="#000" stroke-width="1.0"/>
<text transform="translate(451.40 98.50) scale(0.1)" font-size="64.0" text-anchor="end" font-weight="bold" fill="#000" stroke="#000" stroke-width="2.20">0</text>
<line x1="452.00" y1="70.53" x2="454.00" y2="70.53" stroke="#000" stroke-width="1.0"/>
<text transform="translate(451.40 72.84) scale(0.1)" font-size="64.0" text-anchor="end" font-weight="bold" fill="#000" stroke="#000" stroke-width="2.20">500</text>
<line x1="452.00" y1="44.87" x2="454.00" y2="44.87" stroke="#000" stroke-width="1.0"/>
<text transform="translate(451.40 47.17) scale(0.1)" font-size="64.0" text-anchor="end" font-weight="bold" fill="#000" stroke="#000" stroke-width="2.20">1000</text>
<line x1="452.00" y1="19.20" x2="454.00" y2="19.20" stroke="#000" stroke-width="1.0"/>
<text transform="translate(451.40 21.50) scale(0.1)" font-size="64.0" text-anchor="end" font-weight="bold" fill="#000" stroke="#000" stroke-width="2.20">1500</text>
<text transform="translate(434.30 55.00) rotate(-90) scale(0.1)" font-size="78.0" text-anchor="middle" font-weight="bold" fill="#000" stroke="#000" stroke-width="2.20">CD41 peak area (μm<tspan baseline-shift="super" font-size="45.0">2</tspan>)</text>
<line x1="468.40" y1="47.95" x2="468.40" y2="40.76" stroke="#000" stroke-width="0.9"/>
<line x1="463.85" y1="40.76" x2="472.94" y2="40.76" stroke="#000" stroke-width="0.9"/>
<rect x="458.75" y="48.40" width="19.30" height="47.80" fill="#fff" stroke="#000" stroke-width="0.9"/>
<line x1="497.00" y1="77.98" x2="497.00" y2="75.67" stroke="#000" stroke-width="0.9"/>
<line x1="492.37" y1="75.67" x2="501.63" y2="75.67" stroke="#000" stroke-width="0.9"/>
<rect x="487.15" y="78.43" width="19.70" height="17.77" fill="#000" stroke="#000" stroke-width="0.9"/>
<text transform="translate(468.50 105.10) scale(0.1)" font-size="65.0" text-anchor="middle" font-weight="bold" fill="#000" stroke="#000" stroke-width="2.20">WT</text>
<text transform="translate(498.20 105.10) scale(0.1)" font-size="67.0" text-anchor="middle" font-weight="bold" font-style="italic" fill="#000" stroke="#000" stroke-width="2.20">light ear</text>
<polyline points="466.90,39.40 466.90,37.80 497.80,37.80 497.80,39.40" fill="none" stroke="#000" stroke-width="0.9"/>
<line x1="481.60" y1="30.90" x2="481.60" y2="35.10" stroke="#444" stroke-width="0.9"/>
<line x1="483.42" y1="31.95" x2="479.78" y2="34.05" stroke="#444" stroke-width="0.9"/>
<line x1="483.42" y1="34.05" x2="479.78" y2="31.95" stroke="#444" stroke-width="0.9"/>
<g font-family='"Liberation Sans", sans-serif'>
<filter id="tE" x="0" y="0" width="1" height="1" color-interpolation-filters="sRGB"><feTurbulence type="fractalNoise" baseFrequency="0.26 0.025" numOctaves="4" seed="5"/><feColorMatrix type="matrix" values="1 0 0 0 0  1 0 0 0 0  1 0 0 0 0  0 0 0 0 1"/><feComponentTransfer><feFuncR type="linear" slope="3.3" intercept="-1.12"/><feFuncG type="linear" slope="3.3" intercept="-1.12"/><feFuncB type="linear" slope="3.3" intercept="-1.12"/></feComponentTransfer></filter>
<filter id="tE2" x="0" y="0" width="1" height="1" color-interpolation-filters="sRGB"><feTurbulence type="fractalNoise" baseFrequency="0.45 0.06" numOctaves="3" seed="6"/><feColorMatrix type="matrix" values="1 0 0 0 0  1 0 0 0 0  1 0 0 0 0  0 0 0 0 1"/><feComponentTransfer><feFuncR type="linear" slope="3.0" intercept="-1.0"/><feFuncG type="linear" slope="3.0" intercept="-1.0"/><feFuncB type="linear" slope="3.0" intercept="-1.0"/></feComponentTransfer></filter>
<filter id="rE1" x="0" y="0" width="1" height="1" color-interpolation-filters="sRGB"><feTurbulence type="turbulence" baseFrequency="0.07 0.01" numOctaves="2" seed="41"/><feColorMatrix type="matrix" values="0 0 0 0 1.000  0 0 0 0 1.000  0 0 0 0 1.000  -6.6499999999999995 0 0 0 0.95"/></filter>
<filter id="rE2" x="0" y="0" width="1" height="1" color-interpolation-filters="sRGB"><feTurbulence type="turbulence" baseFrequency="0.09 0.012" numOctaves="2" seed="42"/><feColorMatrix type="matrix" values="0 0 0 0 0.000  0 0 0 0 0.000  0 0 0 0 0.000  -6.3 0 0 0 0.9"/></filter>
<filter id="bE" x="-30%" y="-30%" width="160%" height="160%" color-interpolation-filters="sRGB"><feGaussianBlur stdDeviation="2.2"/></filter>
<filter id="bE2" x="-30%" y="-30%" width="160%" height="160%" color-interpolation-filters="sRGB"><feGaussianBlur stdDeviation="1.0"/></filter>
<clipPath id="clipE"><rect x="24.3" y="135.2" width="99.70" height="69.50"/></clipPath>
<g clip-path="url(#clipE)">
<g transform="translate(74.15 169.95) rotate(30)"><rect x="-80.0" y="-80.0" width="160" height="160" filter="url(#tE)"/></g>
<g transform="translate(74.15 169.95) rotate(30)" opacity="0.35"><rect x="-80.0" y="-80.0" width="160" height="160" filter="url(#tE2)"/></g>
<g transform="translate(74.15 169.95) rotate(30)" opacity="0.6"><rect x="-80.0" y="-80.0" width="160" height="160" filter="url(#rE2)"/></g>
<g transform="translate(74.15 169.95) rotate(31)" opacity="0.7"><rect x="-80.0" y="-80.0" width="160" height="160" filter="url(#rE1)"/></g>
<polygon points="82,130 100,130 86,209 71,209" fill="#000" opacity="0.85" filter="url(#bE)"/>
<polygon points="80,185 90,185 86,210 74,210" fill="#6a6a6a" opacity="0.6" filter="url(#bE)"/>
<g filter="url(#bE2)"><ellipse cx="76" cy="177" rx="5.4" ry="14" transform="rotate(20 76 177)" fill="#a81c10" opacity="0.8"/><ellipse cx="67.8" cy="170" rx="2.6" ry="8.5" transform="rotate(18 67.8 170)" fill="#dce030"/></g>
</g>
<text transform="translate(84.0 142.5) scale(0.1)" font-size="76" font-weight="bold" fill="#8ada52">CD62p</text>
<text transform="translate(81.2 150.2) scale(0.1)" font-size="79" font-weight="bold" fill="#c01424">CD41</text>
<filter id="tF1" x="0" y="0" width="1" height="1" color-interpolation-filters="sRGB"><feTurbulence type="fractalNoise" baseFrequency="0.25 0.25" numOctaves="3" seed="8"/><feColorMatrix type="matrix" values="1 0 0 0 0  1 0 0 0 0  1 0 0 0 0  0 0 0 0 1"/><feComponentTransfer><feFuncR type="linear" slope="4.0" intercept="-1.48"/><feFuncG type="linear" slope="4.0" intercept="-1.48"/><feFuncB type="linear" slope="4.0" intercept="-1.48"/></feComponentTransfer></filter>
<filter id="tF2" x="0" y="0" width="1" height="1" color-interpolation-filters="sRGB"><feTurbulence type="fractalNoise" baseFrequency="0.05 0.35" numOctaves="3" seed="9"/><feColorMatrix type="matrix" values="1 0 0 0 0  1 0 0 0 0  1 0 0 0 0  0 0 0 0 1"/><feComponentTransfer><feFuncR type="linear" slope="4.2" intercept="-1.7"/><feFuncG type="linear" slope="4.2" intercept="-1.7"/><feFuncB type="linear" slope="4.2" intercept="-1.7"/></feComponentTransfer></filter>
<filter id="tF3" x="0" y="0" width="1" height="1" color-interpolation-filters="sRGB"><feTurbulence type="fractalNoise" baseFrequency="0.35 0.05" numOctaves="3" seed="10"/><feColorMatrix type="matrix" values="1 0 0 0 0  1 0 0 0 0  1 0 0 0 0  0 0 0 0 1"/><feComponentTransfer><feFuncR type="linear" slope="4.2" intercept="-1.7"/><feFuncG type="linear" slope="4.2" intercept="-1.7"/><feFuncB type="linear" slope="4.2" intercept="-1.7"/></feComponentTransfer></filter>
<filter id="bF" x="-30%" y="-30%" width="160%" height="160%" color-interpolation-filters="sRGB"><feGaussianBlur stdDeviation="2.2"/></filter>
<filter id="bF2" x="-30%" y="-30%" width="160%" height="160%" color-interpolation-filters="sRGB"><feGaussianBlur stdDeviation="0.7"/></filter>
<clipPath id="clipF"><rect x="158" y="135.5" width="98.50" height="69.20"/></clipPath>
<g clip-path="url(#clipF)">
<g transform="translate(207.25 170.1) rotate(0)"><rect x="-80.0" y="-80.0" width="160" height="160" filter="url(#tF1)"/></g>
<g transform="translate(207.25 170.1) rotate(8)" opacity="0.38"><rect x="-80.0" y="-80.0" width="160" height="160" filter="url(#tF2)"/></g>
<g transform="translate(207.25 170.1) rotate(-6)" opacity="0.38"><rect x="-80.0" y="-80.0" width="160" height="160" filter="url(#tF3)"/></g>
<polygon points="216,128 229,128 226,212 204,212" fill="#4c4c4c" opacity="0.8" filter="url(#bF)"/>
<g filter="url(#bF2)"><line x1="163.5" y1="133" x2="175" y2="207" stroke="#050505" stroke-width="2.6"/><line x1="170" y1="138" x2="185.5" y2="207" stroke="#080808" stroke-width="2.4"/></g>
<g filter="url(#bF2)"><ellipse cx="207.8" cy="178" rx="1.8" ry="8" fill="#b02018" opacity="0.85"/><ellipse cx="204.2" cy="173.5" rx="2.1" ry="10" fill="#e8e028"/></g>
</g>
<filter id="tG" x="0" y="0" width="1" height="1" color-interpolation-filters="sRGB"><feTurbulence type="fractalNoise" baseFrequency="0.25 0.03" numOctaves="4" seed="21"/><feColorMatrix type="matrix" values="1 0 0 0 0  1 0 0 0 0  1 0 0 0 0  0 0 0 0 1"/><feComponentTransfer><feFuncR type="linear" slope="2.3" intercept="-0.6"/><feFuncG type="linear" slope="2.3" intercept="-0.6"/><feFuncB type="linear" slope="2.3" intercept="-0.6"/></feComponentTransfer></filter>
<filter id="tG2" x="0" y="0" width="1" height="1" color-interpolation-filters="sRGB"><feTurbulence type="fractalNoise" baseFrequency="0.5 0.25" numOctaves="2" seed="22"/><feColorMatrix type="matrix" values="1 0 0 0 0  1 0 0 0 0  1 0 0 0 0  0 0 0 0 1"/><feComponentTransfer><feFuncR type="linear" slope="2.2" intercept="-0.6"/><feFuncG type="linear" slope="2.2" intercept="-0.6"/><feFuncB type="linear" slope="2.2" intercept="-0.6"/></feComponentTransfer></filter>
<filter id="bG" x="-30%" y="-30%" width="160%" height="160%" color-interpolation-filters="sRGB"><feGaussianBlur stdDeviation="1.6"/></filter>
<filter id="bG2" x="-30%" y="-30%" width="160%" height="160%" color-interpolation-filters="sRGB"><feGaussianBlur stdDeviation="1.0"/></filter>
<clipPath id="clipG"><rect x="291" y="135.5" width="100.00" height="69.20"/></clipPath>
<g clip-path="url(#clipG)">
<g transform="translate(341.0 170.1) rotate(-4)"><rect x="-80.0" y="-80.0" width="160" height="160" filter="url(#tG)"/></g>
<g transform="translate(341.0 170.1) rotate(-4)" opacity="0.3"><rect x="-80.0" y="-80.0" width="160" height="160" filter="url(#tG2)"/></g>
<g filter="url(#bG)" opacity="0.9">
<line x1="293.5" y1="133" x2="298.5" y2="207" stroke="#000" stroke-width="3"/>
<line x1="307.0" y1="133" x2="312.0" y2="207" stroke="#000" stroke-width="5.5"/>
<line x1="322.5" y1="133" x2="327.5" y2="207" stroke="#000" stroke-width="4"/>
<line x1="331.0" y1="133" x2="336.0" y2="207" stroke="#000" stroke-width="2.5"/>
<line x1="355.0" y1="133" x2="360.0" y2="207" stroke="#000" stroke-width="6.5"/>
<line x1="368.5" y1="133" x2="373.5" y2="207" stroke="#000" stroke-width="3.5"/>
<line x1="381.5" y1="133" x2="386.5" y2="207" stroke="#000" stroke-width="3.5"/>
</g>
<line x1="290" y1="177.5" x2="354" y2="144" stroke="#fff" stroke-width="0.6" opacity="0.3"/>
<line x1="292" y1="181" x2="356" y2="147" stroke="#fff" stroke-width="0.6" opacity="0.3"/>
<line x1="310" y1="197" x2="388" y2="156" stroke="#fff" stroke-width="0.6" opacity="0.3"/>
<line x1="313" y1="199" x2="390" y2="159" stroke="#fff" stroke-width="0.6" opacity="0.3"/>
<line x1="291" y1="160" x2="331" y2="138" stroke="#fff" stroke-width="0.6" opacity="0.3"/>
<rect x="292" y="137" width="13" height="1.3" fill="#fff" opacity="0.45"/>
<rect x="292" y="201" width="7" height="1.4" fill="#fff" opacity="0.6"/>
<g filter="url(#bG2)"><ellipse cx="347.5" cy="172" rx="6" ry="2.6" transform="rotate(-28 347.5 172)" fill="#d85020" opacity="0.9"/><ellipse cx="353" cy="168" rx="4" ry="1.8" transform="rotate(-25 353 168)" fill="#d04050" opacity="0.35"/><ellipse cx="340.8" cy="177.5" rx="4" ry="3.2" transform="rotate(-30 340.8 177.5)" fill="#e0e030"/><ellipse cx="346" cy="185" rx="5" ry="3" fill="#4050a0" opacity="0.3"/></g>
</g>
<filter id="tH" x="0" y="0" width="1" height="1" color-interpolation-filters="sRGB"><feTurbulence type="fractalNoise" baseFrequency="0.12 0.12" numOctaves="4" seed="31"/><feColorMatrix type="matrix" values="1 0 0 0 0  1 0 0 0 0  1 0 0 0 0  0 0 0 0 1"/><feComponentTransfer><feFuncR type="linear" slope="1.6" intercept="0.0"/><feFuncG type="linear" slope="1.6" intercept="0.0"/><feFuncB type="linear" slope="1.6" intercept="0.0"/></feComponentTransfer></filter>
<filter id="tH2" x="0" y="0" width="1" height="1" color-interpolation-filters="sRGB"><feTurbulence type="fractalNoise" baseFrequency="0.5 0.5" numOctaves="2" seed="32"/><feColorMatrix type="matrix" values="1 0 0 0 0  1 0 0 0 0  1 0 0 0 0  0 0 0 0 1"/><feComponentTransfer><feFuncR type="linear" slope="2.0" intercept="-0.3"/><feFuncG type="linear" slope="2.0" intercept="-0.3"/><feFuncB type="linear" slope="2.0" intercept="-0.3"/></feComponentTransfer></filter>
<filter id="bH" x="-30%" y="-30%" width="160%" height="160%" color-interpolation-filters="sRGB"><feGaussianBlur stdDeviation="1.2"/></filter>
<filter id="bH2" x="-30%" y="-30%" width="160%" height="160%" color-interpolation-filters="sRGB"><feGaussianBlur stdDeviation="0.8"/></filter>
<clipPath id="clipH"><rect x="425.5" y="135.5" width="94.00" height="69.20"/></clipPath>
<g clip-path="url(#clipH)">
<g transform="translate(472.5 170.1) rotate(0)"><rect x="-80.0" y="-80.0" width="160" height="160" filter="url(#tH)"/></g>
<g transform="translate(472.5 170.1) rotate(0)" opacity="0.25"><rect x="-80.0" y="-80.0" width="160" height="160" filter="url(#tH2)"/></g>
<g filter="url(#bH)" opacity="0.82">
<line x1="424" y1="136" x2="463" y2="163" stroke="#000" stroke-width="6" stroke-linecap="round"/>
<line x1="470" y1="172" x2="522" y2="208" stroke="#000" stroke-width="6" stroke-linecap="round"/>
<line x1="423" y1="152" x2="497" y2="204" stroke="#000" stroke-width="7" stroke-linecap="round"/>
<line x1="466" y1="133" x2="524" y2="172" stroke="#000" stroke-width="8.5" stroke-linecap="round"/>
<line x1="482" y1="133" x2="509" y2="207" stroke="#000" stroke-width="3"/>
</g>
<polygon points="463,158 485,168 492,188 472,190" fill="#666" opacity="0.45" filter="url(#bH)"/>
<line x1="427.9" y1="168.5" x2="441" y2="207" stroke="#f8f8f8" stroke-width="1"/>
<g filter="url(#bH2)"><ellipse cx="465.5" cy="164" rx="2.2" ry="5.5" transform="rotate(20 465.5 164)" fill="#d07020"/><ellipse cx="461.5" cy="171.5" rx="2.8" ry="3.6" transform="rotate(-30 461.5 171.5)" fill="#e8f040"/><circle cx="460" cy="158.5" r="1.2" fill="#fff"/><ellipse cx="470" cy="170" rx="3" ry="5" fill="#7050a0" opacity="0.25"/></g>
</g>
</g>
<text transform="translate(73.90 133.20) scale(0.1)" font-size="73.0" text-anchor="middle" font-weight="bold" fill="#000" stroke="#000" stroke-width="2.20">WT</text>
<text transform="translate(209.90 133.20) scale(0.1)" font-size="73.5" text-anchor="middle" font-weight="bold" font-style="italic" fill="#000" stroke="#000" stroke-width="2.20">pallid</text>
<text transform="translate(342.50 133.10) scale(0.1)" font-size="73.5" text-anchor="middle" font-weight="bold" font-style="italic" fill="#000" stroke="#000" stroke-width="2.20">pearl</text>
<text transform="translate(474.00 132.90) scale(0.1)" font-size="73.5" text-anchor="middle" font-weight="bold" font-style="italic" fill="#000" stroke="#000" stroke-width="2.20">light ear</text>
<line x1="26.00" y1="230.80" x2="26.00" y2="311.90" stroke="#000" stroke-width="1.0"/>
<line x1="25.50" y1="311.40" x2="118.70" y2="311.40" stroke="#000" stroke-width="1.0"/>
<line x1="24.00" y1="311.40" x2="26.00" y2="311.40" stroke="#000" stroke-width="1.0"/>
<text transform="translate(23.40 313.81) scale(0.1)" font-size="67.0" text-anchor="end" font-weight="bold" fill="#000" stroke="#000" stroke-width="2.20">0</text>
<line x1="24.00" y1="284.53" x2="26.00" y2="284.53" stroke="#000" stroke-width="1.0"/>
<text transform="translate(23.40 286.95) scale(0.1)" font-size="67.0" text-anchor="end" font-weight="bold" fill="#000" stroke="#000" stroke-width="2.20">100</text>
<line x1="24.00" y1="257.67" x2="26.00" y2="257.67" stroke="#000" stroke-width="1.0"/>
<text transform="translate(23.40 260.08) scale(0.1)" font-size="67.0" text-anchor="end" font-weight="bold" fill="#000" stroke="#000" stroke-width="2.20">200</text>
<line x1="24.00" y1="230.80" x2="26.00" y2="230.80" stroke="#000" stroke-width="1.0"/>
<text transform="translate(23.40 233.21) scale(0.1)" font-size="67.0" text-anchor="end" font-weight="bold" fill="#000" stroke="#000" stroke-width="2.20">300</text>
<line x1="26.00" y1="311.40" x2="26.00" y2="313.40" stroke="#000" stroke-width="1.0"/>
<text transform="translate(26.00 319.60) scale(0.1)" font-size="67.0" text-anchor="middle" font-weight="bold" fill="#000" stroke="#000" stroke-width="2.20">0</text>
<line x1="44.54" y1="311.40" x2="44.54" y2="313.40" stroke="#000" stroke-width="1.0"/>
<text transform="translate(44.54 319.60) scale(0.1)" font-size="67.0" text-anchor="middle" font-weight="bold" fill="#000" stroke="#000" stroke-width="2.20">50</text>
<line x1="63.08" y1="311.40" x2="63.08" y2="313.40" stroke="#000" stroke-width="1.0"/>
<text transform="translate(63.08 319.60) scale(0.1)" font-size="67.0" text-anchor="middle" font-weight="bold" fill="#000" stroke="#000" stroke-width="2.20">100</text>
<line x1="81.62" y1="311.40" x2="81.62" y2="313.40" stroke="#000" stroke-width="1.0"/>
<text transform="translate(81.62 319.60) scale(0.1)" font-size="67.0" text-anchor="middle" font-weight="bold" fill="#000" stroke="#000" stroke-width="2.20">150</text>
<line x1="100.16" y1="311.40" x2="100.16" y2="313.40" stroke="#000" stroke-width="1.0"/>
<text transform="translate(100.16 319.60) scale(0.1)" font-size="67.0" text-anchor="middle" font-weight="bold" fill="#000" stroke="#000" stroke-width="2.20">200</text>
<line x1="118.70" y1="311.40" x2="118.70" y2="313.40" stroke="#000" stroke-width="1.0"/>
<text transform="translate(118.70 319.60) scale(0.1)" font-size="67.0" text-anchor="middle" font-weight="bold" fill="#000" stroke="#000" stroke-width="2.20">250</text>
<text transform="translate(7.10 268.50) rotate(-90) scale(0.1)" font-size="80.0" text-anchor="middle" font-weight="bold" fill="#000" stroke="#000" stroke-width="2.20">CD62p area (μm<tspan baseline-shift="super" font-size="46.0">2</tspan>)</text>
<text transform="translate(70.80 327.50) scale(0.1)" font-size="76.0" text-anchor="middle" font-weight="bold" fill="#000" stroke="#000" stroke-width="2.20">Time (s)</text>
<polygon points="26.00,307.07 26.71,309.13 27.43,308.34 28.14,307.56 28.86,307.27 29.57,305.04 30.29,305.14 31.00,305.41 31.78,304.32 32.57,304.64 33.35,303.02 34.13,303.02 34.92,298.37 35.70,300.25 36.41,299.13 37.12,298.44 37.83,298.03 38.54,297.41 39.25,296.41 39.96,295.15 40.67,294.71 41.38,293.95 42.09,291.79 42.80,292.46 43.53,290.90 44.27,290.13 45.00,290.77 45.76,289.71 46.51,288.60 47.27,286.94 48.02,286.77 48.78,285.32 49.53,285.87 50.29,285.55 51.04,286.26 51.80,285.03 52.56,282.25 53.31,281.20 54.07,279.38 54.82,279.20 55.58,279.96 56.33,278.41 57.09,275.79 57.84,275.31 58.60,275.22 59.34,276.25 60.09,275.52 60.83,274.50 61.58,274.38 62.32,271.54 63.07,270.46 63.81,271.72 64.56,269.31 65.30,267.68 66.06,265.96 66.81,265.91 67.57,264.17 68.32,265.45 69.08,264.61 69.83,265.01 70.59,263.07 71.34,261.98 72.10,261.30 73.00,262.94 73.90,258.90 74.80,259.17 75.57,258.44 76.34,258.79 77.11,258.11 77.89,258.45 78.66,257.95 79.43,256.47 80.20,255.92 80.99,255.78 81.77,254.58 82.56,254.82 83.34,254.87 84.13,254.88 84.91,255.25 85.70,254.90 86.47,253.00 87.24,253.65 88.01,252.88 88.79,253.06 89.56,251.69 90.33,251.29 91.10,250.16 91.88,250.12 92.66,251.10 93.44,251.67 94.22,250.50 95.00,250.35 95.80,250.15 96.60,250.48 97.40,249.52 98.20,251.83 99.00,251.28 99.80,251.24 100.53,251.07 101.27,252.75 102.00,250.05 102.73,252.06 103.47,251.36 104.20,252.79 104.93,250.41 105.67,250.27 106.40,249.51 107.14,250.22 107.89,250.40 108.63,249.96 109.38,250.53 110.12,248.48 110.87,248.74 111.61,249.64 112.36,249.13 113.10,249.22 113.92,250.13 114.74,249.30 115.56,247.79 116.38,247.94 117.20,247.29 117.20,256.18 116.38,257.71 115.56,257.70 114.74,257.73 113.92,259.43 113.10,258.61 112.36,257.41 111.61,257.88 110.87,258.55 110.12,257.94 109.38,258.96 108.63,259.10 107.89,259.84 107.14,259.80 106.40,258.75 105.67,258.70 104.93,259.77 104.20,261.01 103.47,260.85 102.73,259.58 102.00,259.11 101.27,260.30 100.53,260.60 99.80,260.70 99.00,259.94 98.20,260.68 97.40,260.36 96.60,258.98 95.80,259.35 95.00,260.17 94.22,258.34 93.44,259.02 92.66,257.90 91.88,259.64 91.10,259.01 90.33,261.19 89.56,260.39 88.79,262.24 88.01,261.99 87.24,262.10 86.47,260.86 85.70,262.83 84.91,262.43 84.13,263.44 83.34,263.77 82.56,263.99 81.77,266.07 80.99,265.37 80.20,266.19 79.43,266.67 78.66,266.47 77.89,267.62 77.11,266.56 76.34,267.97 75.57,267.65 74.80,267.98 73.90,268.12 73.00,271.12 72.10,270.92 71.34,271.51 70.59,272.67 69.83,272.10 69.08,272.98 68.32,274.27 67.57,274.24 66.81,276.69 66.06,276.20 65.30,276.98 64.56,278.20 63.81,279.82 63.07,280.88 62.32,280.95 61.58,282.41 60.83,283.54 60.09,284.58 59.34,285.06 58.60,283.99 57.84,285.19 57.09,287.72 56.33,288.17 55.58,287.01 54.82,287.56 54.07,288.29 53.31,290.59 52.56,290.74 51.80,292.06 51.04,293.52 50.29,291.87 49.53,292.61 48.78,293.17 48.02,294.48 47.27,295.97 46.51,295.94 45.76,296.88 45.00,296.18 44.27,298.68 43.53,297.50 42.80,299.91 42.09,299.96 41.38,299.23 40.67,300.78 39.96,301.82 39.25,302.14 38.54,301.92 37.83,302.85 37.12,303.43 36.41,305.13 35.70,304.55 34.92,305.88 34.13,306.66 33.35,308.00 32.57,307.73 31.78,310.16 31.00,309.80 30.29,308.69 29.57,308.67 28.86,309.40 28.14,309.91 27.43,311.43 26.71,310.10 26.00,311.86" fill="#c8c8c8"/>
<polygon points="26.00,306.99 26.71,308.84 27.43,307.61 28.14,307.37 28.86,305.51 29.57,307.52 30.29,304.58 31.00,305.06 31.78,304.93 32.57,304.48 33.35,302.28 34.13,301.86 34.92,301.75 35.70,299.01 36.41,300.07 37.12,299.25 37.83,297.91 38.54,297.59 39.25,297.08 39.96,295.64 40.67,294.92 41.38,294.71 42.09,292.23 42.80,292.18 43.53,290.93 44.27,291.60 45.00,289.42 45.76,289.15 46.51,288.16 47.27,287.83 48.02,288.50 48.78,286.00 49.53,286.35 50.29,284.65 51.04,284.16 51.80,282.11 52.56,282.77 53.31,281.86 54.07,279.55 54.82,279.66 55.58,278.92 56.33,278.55 57.09,278.66 57.84,276.60 58.60,274.87 59.45,274.29 60.30,274.50 61.15,273.71 62.00,273.40 62.80,272.75 63.60,273.77 64.40,272.01 65.20,272.38 66.00,270.55 66.78,271.23 67.57,271.34 68.35,271.07 69.13,268.13 69.92,269.79 70.70,270.19 71.45,269.35 72.19,267.55 72.94,268.41 73.68,269.15 74.43,269.08 75.17,267.78 75.92,267.78 76.66,268.58 77.41,266.84 78.15,268.14 78.90,267.02 79.66,266.89 80.41,265.77 81.17,266.02 81.92,266.81 82.68,264.95 83.43,267.20 84.19,264.32 84.94,264.34 85.70,265.50 86.42,265.64 87.13,265.82 87.85,265.13 88.56,265.32 89.28,265.13 89.99,264.88 90.71,263.49 91.42,266.40 92.14,265.71 92.85,265.28 93.57,264.36 94.28,264.93 95.00,264.58 95.71,264.46 96.42,265.15 97.14,263.10 97.85,264.51 98.56,263.55 99.28,263.95 99.99,265.48 100.70,263.44 101.41,264.30 102.12,263.86 102.84,264.52 103.55,262.57 104.26,261.69 104.98,263.64 105.69,263.47 106.40,263.31 107.12,264.26 107.84,262.17 108.56,262.57 109.28,262.76 110.00,263.19 110.72,262.57 111.44,263.96 112.16,264.46 112.88,262.46 113.60,264.07 114.32,261.13 115.04,263.66 115.76,261.92 116.48,261.96 117.20,261.32 117.20,269.86 116.48,270.51 115.76,272.53 115.04,272.19 114.32,271.55 113.60,271.70 112.88,271.76 112.16,270.11 111.44,272.55 110.72,271.72 110.00,271.83 109.28,271.78 108.56,270.51 107.84,271.32 107.12,271.72 106.40,273.26 105.69,273.05 104.98,271.92 104.26,273.16 103.55,272.02 102.84,273.72 102.12,273.71 101.41,274.30 100.70,274.38 99.99,273.44 99.28,273.32 98.56,272.48 97.85,273.88 97.14,274.24 96.42,273.61 95.71,272.97 95.00,273.31 94.28,274.92 93.57,275.22 92.85,273.72 92.14,273.14 91.42,274.44 90.71,274.18 89.99,274.09 89.28,274.27 88.56,272.54 87.85,274.26 87.13,274.79 86.42,274.82 85.70,273.11 84.94,273.65 84.19,275.54 83.43,273.87 82.68,276.23 81.92,275.94 81.17,274.67 80.41,277.20 79.66,274.92 78.90,276.72 78.15,275.32 77.41,277.72 76.66,276.02 75.92,277.25 75.17,278.06 74.43,277.91 73.68,277.80 72.94,278.71 72.19,278.47 71.45,277.77 70.70,277.70 69.92,278.15 69.13,278.21 68.35,279.10 67.57,279.03 66.78,280.78 66.00,280.42 65.20,280.64 64.40,281.67 63.60,282.61 62.80,281.24 62.00,283.66 61.15,282.81 60.30,283.87 59.45,284.24 58.60,283.97 57.84,286.75 57.09,285.17 56.33,287.75 55.58,287.76 54.82,288.23 54.07,288.52 53.31,290.49 52.56,291.20 51.80,291.50 51.04,291.35 50.29,291.94 49.53,291.92 48.78,293.46 48.02,293.90 47.27,295.28 46.51,295.01 45.76,296.60 45.00,297.55 44.27,296.57 43.53,298.36 42.80,298.46 42.09,298.88 41.38,298.95 40.67,299.33 39.96,301.28 39.25,300.84 38.54,302.98 37.83,302.41 37.12,304.12 36.41,305.12 35.70,304.10 34.92,305.40 34.13,306.46 33.35,307.32 32.57,308.44 31.78,306.86 31.00,308.16 30.29,308.53 29.57,308.98 28.86,310.13 28.14,310.56 27.43,309.66 26.71,309.28 26.00,310.01" fill="#c8c8c8"/>
<polygon points="26.00,307.34 26.71,308.35 27.43,307.84 28.14,306.55 28.86,307.45 29.57,305.35 30.29,306.53 31.00,305.73 31.78,304.95 32.57,305.52 33.35,303.04 34.13,302.85 34.92,302.88 35.70,302.32 36.41,299.77 37.12,299.97 37.83,298.22 38.54,298.54 39.25,297.79 39.96,295.83 40.67,294.70 41.38,294.13 42.09,291.08 42.80,292.64 43.53,292.10 44.27,290.99 45.00,290.35 45.76,289.00 46.51,288.98 47.27,289.17 48.02,287.71 48.78,287.96 49.53,284.26 50.29,284.84 51.04,284.14 51.80,283.13 52.50,281.36 53.20,281.96 53.90,282.93 54.60,280.17 55.30,279.76 56.00,278.88 56.76,279.20 57.51,280.04 58.27,279.81 59.03,277.55 59.79,279.68 60.54,278.00 61.30,277.75 62.08,279.47 62.87,277.73 63.65,276.26 64.43,276.06 65.22,275.57 66.00,275.48 66.76,276.17 67.53,277.06 68.29,276.59 69.05,274.83 69.81,277.63 70.57,274.53 71.34,275.24 72.10,275.31 72.83,275.24 73.56,274.46 74.29,274.67 75.02,275.70 75.75,274.07 76.48,273.11 77.22,274.44 77.95,273.00 78.68,273.02 79.41,273.60 80.14,273.61 80.87,272.37 81.60,272.61 82.31,271.66 83.01,271.41 83.72,273.10 84.42,272.14 85.13,273.13 85.83,271.91 86.54,272.67 87.24,272.97 87.95,270.26 88.65,271.18 89.36,271.16 90.06,273.25 90.77,270.65 91.47,272.72 92.18,272.30 92.88,271.79 93.59,271.93 94.29,271.28 95.00,271.50 95.71,271.52 96.43,271.86 97.14,272.30 97.86,271.09 98.57,270.41 99.29,270.56 100.00,271.79 100.71,270.60 101.43,270.73 102.14,271.08 102.86,270.55 103.57,271.02 104.29,269.04 105.00,271.06 105.72,270.33 106.44,271.47 107.15,268.95 107.87,270.88 108.59,271.46 109.31,271.37 110.02,271.80 110.74,271.60 111.46,270.34 112.18,271.47 112.89,270.47 113.61,269.61 114.33,272.10 115.05,270.60 115.76,270.77 116.48,270.30 117.20,270.19 117.20,282.01 116.48,281.56 115.76,280.47 115.05,283.79 114.33,281.54 113.61,281.55 112.89,282.80 112.18,281.09 111.46,283.76 110.74,282.21 110.02,281.09 109.31,280.54 108.59,281.59 107.87,281.40 107.15,282.50 106.44,282.51 105.72,281.67 105.00,280.64 104.29,282.79 103.57,282.08 102.86,280.48 102.14,282.41 101.43,282.23 100.71,283.30 100.00,283.80 99.29,282.87 98.57,282.96 97.86,282.46 97.14,285.21 96.43,281.77 95.71,281.20 95.00,282.58 94.29,283.20 93.59,282.48 92.88,283.26 92.18,282.40 91.47,283.62 90.77,283.20 90.06,282.79 89.36,284.07 88.65,284.29 87.95,281.82 87.24,284.11 86.54,284.19 85.83,284.34 85.13,281.89 84.42,283.88 83.72,284.49 83.01,284.23 82.31,283.82 81.60,284.51 80.87,282.82 80.14,283.51 79.41,284.73 78.68,283.75 77.95,284.14 77.22,285.08 76.48,285.88 75.75,284.41 75.02,285.19 74.29,285.48 73.56,285.82 72.83,283.85 72.10,286.15 71.34,286.56 70.57,286.58 69.81,286.17 69.05,287.41 68.29,286.81 67.53,286.41 66.76,287.13 66.00,287.33 65.22,286.25 64.43,286.86 63.65,286.59 62.87,287.38 62.08,287.57 61.30,288.04 60.54,286.82 59.79,287.63 59.03,288.09 58.27,286.85 57.51,288.13 56.76,288.04 56.00,287.64 55.30,286.69 54.60,289.27 53.90,289.13 53.20,287.93 52.50,290.44 51.80,289.82 51.04,291.25 50.29,290.93 49.53,292.82 48.78,293.06 48.02,294.36 47.27,294.26 46.51,294.85 45.76,295.32 45.00,295.55 44.27,296.46 43.53,296.34 42.80,296.83 42.09,299.10 41.38,298.92 40.67,299.95 39.96,301.15 39.25,301.84 38.54,303.08 37.83,303.19 37.12,303.34 36.41,304.11 35.70,305.78 34.92,306.77 34.13,306.34 33.35,307.83 32.57,307.41 31.78,307.82 31.00,308.25 30.29,308.45 29.57,309.95 28.86,309.21 28.14,310.53 27.43,311.47 26.71,311.57 26.00,311.57" fill="#c8c8c8"/>
<polyline points="26.00,309.30 26.71,309.78 27.43,308.89 28.14,308.71 28.86,308.18 29.57,307.64 30.29,307.42 31.00,307.00 31.78,306.27 32.57,305.62 33.35,305.08 34.13,304.89 34.92,304.51 35.70,303.73 36.41,302.94 37.12,301.97 37.83,301.07 38.54,300.41 39.25,299.17 39.96,298.29 40.67,297.35 41.38,296.62 42.09,296.06 42.80,294.82 43.53,294.52 44.27,293.79 45.00,293.65 45.76,292.64 46.51,292.27 47.27,291.46 48.02,291.09 48.78,290.30 49.53,289.69 50.29,288.72 51.04,287.53 51.80,286.82 52.50,286.38 53.20,286.29 53.90,285.86 54.60,285.13 55.30,284.55 56.00,283.82 56.76,283.79 57.51,283.80 58.27,283.68 59.03,283.51 59.79,283.04 60.54,283.01 61.30,282.83 62.08,282.90 62.87,282.58 63.65,282.08 64.43,281.49 65.22,281.15 66.00,281.35 66.76,281.60 67.53,281.64 68.29,281.65 69.05,281.30 69.81,280.97 70.57,280.79 71.34,280.65 72.10,280.78 72.83,280.15 73.56,280.22 74.29,279.81 75.02,279.58 75.75,279.50 76.48,279.44 77.22,279.69 77.95,279.12 78.68,278.81 79.41,278.96 80.14,278.85 80.87,278.09 81.60,277.46 82.31,277.31 83.01,277.91 83.72,277.93 84.42,277.91 85.13,277.70 85.83,277.92 86.54,277.73 87.24,278.23 87.95,277.83 88.65,277.83 89.36,277.52 90.06,277.67 90.77,277.60 91.47,277.52 92.18,276.96 92.88,276.91 93.59,276.92 94.29,277.16 95.00,277.01 95.71,276.85 96.43,277.04 97.14,277.26 97.86,276.74 98.57,276.45 99.29,276.49 100.00,276.97 100.71,277.37 101.43,277.19 102.14,276.90 102.86,276.47 103.57,276.72 104.29,276.59 105.00,276.82 105.72,276.02 106.44,276.37 107.15,275.97 107.87,276.62 108.59,276.60 109.31,276.49 110.02,276.38 110.74,276.29 111.46,276.65 112.18,276.48 112.89,276.23 113.61,275.72 114.33,276.42 115.05,276.59 115.76,276.93 116.48,276.11 117.20,276.34" fill="none" stroke="#000" stroke-width="1.6" stroke-linejoin="round" stroke-linecap="round"/>
<polyline points="26.00,309.00 26.71,308.76 27.43,308.46 28.14,308.07 28.86,307.75 29.57,307.74 30.29,307.40 31.00,307.08 31.78,306.06 32.57,305.25 33.35,304.90 34.13,304.38 34.92,303.68 35.70,302.70 36.41,301.84 37.12,301.17 37.83,300.70 38.54,299.69 39.25,299.08 39.96,298.09 40.67,297.29 41.38,296.40 42.09,295.55 42.80,295.09 43.53,294.46 44.27,294.00 45.00,293.03 45.76,292.17 46.51,291.54 47.27,291.35 48.02,290.83 48.78,289.82 49.53,289.10 50.29,287.94 51.04,287.17 51.80,286.35 52.56,286.26 53.31,285.57 54.07,284.41 54.82,283.93 55.58,283.52 56.33,283.08 57.09,282.15 57.84,281.66 58.60,280.67 59.45,280.13 60.30,279.35 61.15,278.70 62.00,277.88 62.80,276.82 63.60,276.91 64.40,276.27 65.20,276.53 66.00,275.61 66.78,275.28 67.57,274.79 68.35,274.53 69.13,274.14 69.92,273.60 70.70,273.47 71.45,273.21 72.19,273.20 72.94,273.14 73.68,273.19 74.43,273.26 75.17,272.90 75.92,272.97 76.66,272.33 77.41,272.37 78.15,271.53 78.90,271.50 79.66,271.16 80.41,271.29 81.17,270.97 81.92,270.78 82.68,270.58 83.43,270.11 84.19,269.90 84.94,269.78 85.70,269.96 86.42,269.77 87.13,269.75 87.85,269.92 88.56,269.98 89.28,269.81 89.99,269.82 90.71,269.97 91.42,270.16 92.14,270.02 92.85,269.65 93.57,269.34 94.28,269.23 95.00,269.09 95.71,269.02 96.42,268.80 97.14,268.92 97.85,268.82 98.56,268.87 99.28,268.69 99.99,268.83 100.70,268.78 101.41,268.88 102.12,268.81 102.84,268.29 103.55,267.82 104.26,267.48 104.98,267.74 105.69,268.24 106.40,268.05 107.12,267.92 107.84,267.36 108.56,267.36 109.28,267.15 110.00,267.37 110.72,267.47 111.44,267.67 112.16,267.24 112.88,267.28 113.60,267.14 114.32,267.26 115.04,267.08 115.76,266.68 116.48,266.36 117.20,266.08" fill="none" stroke="#333" stroke-width="1.5" stroke-linejoin="round" stroke-linecap="round"/>
<polyline points="26.00,309.00 26.71,309.48 27.43,309.15 28.14,309.04 28.86,308.18 29.57,307.43 30.29,306.94 31.00,307.49 31.78,307.05 32.57,306.43 33.35,305.04 34.13,303.87 34.92,303.14 35.70,302.97 36.41,302.14 37.12,301.17 37.83,300.13 38.54,299.61 39.25,299.00 39.96,298.23 40.67,297.09 41.38,296.53 42.09,296.22 42.80,295.71 43.53,295.12 44.27,294.29 45.00,293.95 45.76,293.06 46.51,291.99 47.27,291.21 48.02,290.59 48.78,289.80 49.53,289.41 50.29,288.93 51.04,288.88 51.80,288.13 52.56,287.11 53.31,285.87 54.07,284.52 54.82,283.43 55.58,282.87 56.33,282.34 57.09,282.05 57.84,280.82 58.60,280.75 59.34,280.33 60.09,280.02 60.83,278.76 61.58,277.46 62.32,276.70 63.07,275.64 63.81,274.65 64.56,273.53 65.30,272.80 66.06,272.08 66.81,271.63 67.57,270.62 68.32,269.89 69.08,269.08 69.83,268.71 70.59,267.68 71.34,267.03 72.10,266.39 73.00,265.92 73.90,264.81 74.80,263.53 75.57,262.92 76.34,262.80 77.11,262.93 77.89,262.55 78.66,261.80 79.43,261.09 80.20,260.78 80.99,260.43 81.77,259.85 82.56,259.49 83.34,259.61 84.13,259.21 84.91,258.69 85.70,258.36 86.47,257.86 87.24,257.67 88.01,257.14 88.79,256.95 89.56,256.17 90.33,255.58 91.10,255.03 91.88,255.25 92.66,254.90 93.44,255.13 94.22,254.47 95.00,254.50 95.80,254.44 96.60,255.34 97.40,255.44 98.20,255.80 99.00,255.62 99.80,256.19 100.53,256.34 101.27,256.23 102.00,256.00 102.73,255.15 103.47,255.35 104.20,255.39 104.93,255.49 105.67,254.78 106.40,254.42 107.14,254.60 107.89,255.06 108.63,255.06 109.38,254.17 110.12,253.60 110.87,253.65 111.61,253.70 112.36,254.06 113.10,254.06 113.92,254.34 114.74,254.10 115.56,253.28 116.38,252.53 117.20,251.97" fill="none" stroke="#000" stroke-width="1.8" stroke-linejoin="round" stroke-linecap="round"/>
<text transform="translate(109.00 246.60) scale(0.1)" font-size="63.0" text-anchor="middle" font-weight="bold" fill="#000" stroke="#000" stroke-width="2.20">WT</text>
<text transform="translate(108.50 263.20) scale(0.1)" font-size="66.0" text-anchor="middle" font-weight="bold" font-style="italic" fill="#000" stroke="#000" stroke-width="2.20">pallid</text>
<text transform="translate(108.50 286.30) scale(0.1)" font-size="66.0" text-anchor="middle" font-weight="bold" font-style="italic" fill="#000" stroke="#000" stroke-width="2.20">pearl</text>
<line x1="169.40" y1="232.70" x2="169.40" y2="311.30" stroke="#000" stroke-width="1.0"/>
<line x1="168.90" y1="310.80" x2="261.50" y2="310.80" stroke="#000" stroke-width="1.0"/>
<line x1="167.40" y1="310.80" x2="169.40" y2="310.80" stroke="#000" stroke-width="1.0"/>
<text transform="translate(166.80 313.14) scale(0.1)" font-size="65.0" text-anchor="end" font-weight="bold" fill="#000" stroke="#000" stroke-width="2.20">0</text>
<line x1="167.40" y1="284.77" x2="169.40" y2="284.77" stroke="#000" stroke-width="1.0"/>
<text transform="translate(166.80 287.11) scale(0.1)" font-size="65.0" text-anchor="end" font-weight="bold" fill="#000" stroke="#000" stroke-width="2.20">100</text>
<line x1="167.40" y1="258.73" x2="169.40" y2="258.73" stroke="#000" stroke-width="1.0"/>
<text transform="translate(166.80 261.07) scale(0.1)" font-size="65.0" text-anchor="end" font-weight="bold" fill="#000" stroke="#000" stroke-width="2.20">200</text>
<line x1="167.40" y1="232.70" x2="169.40" y2="232.70" stroke="#000" stroke-width="1.0"/>
<text transform="translate(166.80 235.04) scale(0.1)" font-size="65.0" text-anchor="end" font-weight="bold" fill="#000" stroke="#000" stroke-width="2.20">300</text>
<text transform="translate(153.60 268.30) rotate(-90) scale(0.1)" font-size="76.0" text-anchor="middle" font-weight="bold" fill="#000" stroke="#000" stroke-width="2.20">CD62p peak area (μm<tspan baseline-shift="super" font-size="45.0">2</tspan>)</text>
<line x1="184.65" y1="246.24" x2="184.65" y2="238.43" stroke="#000" stroke-width="0.9"/>
<line x1="179.99" y1="238.43" x2="189.31" y2="238.43" stroke="#000" stroke-width="0.9"/>
<rect x="174.75" y="246.69" width="19.80" height="64.11" fill="#fff" stroke="#000" stroke-width="0.9"/>
<line x1="215.45" y1="260.82" x2="215.45" y2="255.09" stroke="#000" stroke-width="0.9"/>
<line x1="210.75" y1="255.09" x2="220.15" y2="255.09" stroke="#000" stroke-width="0.9"/>
<rect x="205.45" y="261.27" width="20.00" height="49.53" fill="url(#hatch)" stroke="#000" stroke-width="0.9"/>
<line x1="246.35" y1="271.23" x2="246.35" y2="266.80" stroke="#000" stroke-width="0.9"/>
<line x1="241.65" y1="266.80" x2="251.05" y2="266.80" stroke="#000" stroke-width="0.9"/>
<rect x="236.35" y="271.68" width="20.00" height="39.12" fill="#808080" stroke="#000" stroke-width="0.9"/>
<text transform="translate(184.60 319.60) scale(0.1)" font-size="65.0" text-anchor="middle" font-weight="bold" fill="#000" stroke="#000" stroke-width="2.20">WT</text>
<text transform="translate(215.30 319.60) scale(0.1)" font-size="65.0" text-anchor="middle" font-weight="bold" font-style="italic" fill="#000" stroke="#000" stroke-width="2.20">pallid</text>
<text transform="translate(246.50 319.60) scale(0.1)" font-size="65.0" text-anchor="middle" font-weight="bold" font-style="italic" fill="#000" stroke="#000" stroke-width="2.20">pearl</text>
<polyline points="184.40,228.60 184.40,227.00 246.00,227.00 246.00,228.60" fill="none" stroke="#000" stroke-width="0.9"/>
<line x1="214.40" y1="220.40" x2="214.40" y2="224.60" stroke="#444" stroke-width="0.9"/>
<line x1="216.22" y1="221.45" x2="212.58" y2="223.55" stroke="#444" stroke-width="0.9"/>
<line x1="216.22" y1="223.55" x2="212.58" y2="221.45" stroke="#444" stroke-width="0.9"/>
<line x1="300.50" y1="231.40" x2="300.50" y2="311.30" stroke="#000" stroke-width="1.0"/>
<line x1="300.00" y1="310.80" x2="393.50" y2="310.80" stroke="#000" stroke-width="1.0"/>
<line x1="298.50" y1="310.80" x2="300.50" y2="310.80" stroke="#000" stroke-width="1.0"/>
<text transform="translate(297.90 313.10) scale(0.1)" font-size="64.0" text-anchor="end" font-weight="bold" fill="#000" stroke="#000" stroke-width="2.20">0</text>
<line x1="298.50" y1="294.92" x2="300.50" y2="294.92" stroke="#000" stroke-width="1.0"/>
<text transform="translate(297.90 297.22) scale(0.1)" font-size="64.0" text-anchor="end" font-weight="bold" fill="#000" stroke="#000" stroke-width="2.20">50</text>
<line x1="298.50" y1="279.04" x2="300.50" y2="279.04" stroke="#000" stroke-width="1.0"/>
<text transform="translate(297.90 281.34) scale(0.1)" font-size="64.0" text-anchor="end" font-weight="bold" fill="#000" stroke="#000" stroke-width="2.20">100</text>
<line x1="298.50" y1="263.16" x2="300.50" y2="263.16" stroke="#000" stroke-width="1.0"/>
<text transform="translate(297.90 265.46) scale(0.1)" font-size="64.0" text-anchor="end" font-weight="bold" fill="#000" stroke="#000" stroke-width="2.20">150</text>
<line x1="298.50" y1="247.28" x2="300.50" y2="247.28" stroke="#000" stroke-width="1.0"/>
<text transform="translate(297.90 249.58) scale(0.1)" font-size="64.0" text-anchor="end" font-weight="bold" fill="#000" stroke="#000" stroke-width="2.20">200</text>
<line x1="298.50" y1="231.40" x2="300.50" y2="231.40" stroke="#000" stroke-width="1.0"/>
<text transform="translate(297.90 233.70) scale(0.1)" font-size="64.0" text-anchor="end" font-weight="bold" fill="#000" stroke="#000" stroke-width="2.20">250</text>
<line x1="300.50" y1="310.80" x2="300.50" y2="312.80" stroke="#000" stroke-width="1.0"/>
<text transform="translate(300.50 319.40) scale(0.1)" font-size="64.0" text-anchor="middle" font-weight="bold" fill="#000" stroke="#000" stroke-width="2.20">0</text>
<line x1="323.75" y1="310.80" x2="323.75" y2="312.80" stroke="#000" stroke-width="1.0"/>
<text transform="translate(323.75 319.40) scale(0.1)" font-size="64.0" text-anchor="middle" font-weight="bold" fill="#000" stroke="#000" stroke-width="2.20">50</text>
<line x1="347.00" y1="310.80" x2="347.00" y2="312.80" stroke="#000" stroke-width="1.0"/>
<text transform="translate(347.00 319.40) scale(0.1)" font-size="64.0" text-anchor="middle" font-weight="bold" fill="#000" stroke="#000" stroke-width="2.20">100</text>
<line x1="370.25" y1="310.80" x2="370.25" y2="312.80" stroke="#000" stroke-width="1.0"/>
<text transform="translate(370.25 319.40) scale(0.1)" font-size="64.0" text-anchor="middle" font-weight="bold" fill="#000" stroke="#000" stroke-width="2.20">150</text>
<line x1="393.50" y1="310.80" x2="393.50" y2="312.80" stroke="#000" stroke-width="1.0"/>
<text transform="translate(393.50 319.40) scale(0.1)" font-size="64.0" text-anchor="middle" font-weight="bold" fill="#000" stroke="#000" stroke-width="2.20">200</text>
<text transform="translate(283.60 270.00) rotate(-90) scale(0.1)" font-size="80.0" text-anchor="middle" font-weight="bold" fill="#000" stroke="#000" stroke-width="2.20">CD62p area (μm<tspan baseline-shift="super" font-size="45.0">2</tspan>)</text>
<text transform="translate(346.80 329.60) scale(0.1)" font-size="76.0" text-anchor="middle" font-weight="bold" fill="#000" stroke="#000" stroke-width="2.20">Time (s)</text>
<polygon points="300.60,310.21 301.36,309.62 302.11,309.14 302.87,307.92 303.62,307.37 304.38,307.68 305.13,307.92 305.89,305.38 306.64,304.25 307.40,304.74 308.10,303.33 308.80,302.96 309.50,301.83 310.20,300.10 310.90,299.88 311.60,300.09 312.30,299.84 313.00,298.65 313.70,297.80 314.40,295.54 315.11,295.81 315.82,294.63 316.53,295.08 317.24,294.65 317.95,292.86 318.66,292.22 319.37,291.02 320.08,291.51 320.79,289.78 321.50,289.20 322.20,288.82 322.90,287.73 323.60,288.07 324.30,286.44 325.00,286.06 325.70,284.72 326.40,282.67 327.10,282.75 327.80,281.84 328.50,281.43 329.21,280.85 329.92,281.99 330.63,280.59 331.34,280.79 332.05,278.92 332.76,277.22 333.47,276.37 334.18,277.70 334.89,275.76 335.60,276.90 336.30,276.17 337.00,275.15 337.70,274.17 338.40,273.92 339.10,273.36 339.80,272.18 340.50,271.17 341.20,270.79 341.90,271.24 342.60,269.30 343.34,269.76 344.08,268.34 344.81,268.60 345.55,267.56 346.29,267.43 347.02,267.96 347.76,266.92 348.50,266.73 349.25,266.53 349.99,265.86 350.74,265.76 351.48,265.44 352.23,264.67 352.97,262.14 353.72,262.43 354.46,264.07 355.21,263.41 355.95,264.54 356.70,262.41 357.42,262.15 358.15,263.11 358.87,261.81 359.59,262.20 360.32,260.75 361.04,260.30 361.76,260.22 362.48,258.85 363.21,258.53 363.93,258.06 364.65,258.75 365.38,259.68 366.10,258.90 366.80,258.55 367.50,257.04 368.20,256.78 368.90,253.66 369.60,255.06 370.30,255.99 371.00,255.35 371.70,255.92 372.40,254.67 373.10,254.69 373.84,253.99 374.58,253.39 375.31,252.67 376.05,251.87 376.79,251.79 377.52,251.10 378.26,251.37 379.00,251.12 379.74,252.69 380.48,249.85 381.21,250.04 381.95,248.56 382.69,247.19 383.42,247.58 384.16,246.35 384.90,245.43 384.90,263.15 384.16,261.01 383.42,262.78 382.69,262.67 381.95,264.19 381.21,264.13 380.48,265.30 379.74,265.48 379.00,266.94 378.26,265.71 377.52,265.84 376.79,265.91 376.05,266.35 375.31,267.29 374.58,266.81 373.84,267.21 373.10,266.90 372.40,268.25 371.70,268.17 371.00,269.42 370.30,268.37 369.60,267.48 368.90,268.10 368.20,269.18 367.50,270.77 366.80,270.90 366.10,271.35 365.38,271.44 364.65,270.43 363.93,269.53 363.21,270.47 362.48,270.69 361.76,271.29 361.04,272.14 360.32,271.81 359.59,271.88 358.87,272.76 358.15,273.87 357.42,273.76 356.70,273.60 355.95,274.89 355.21,274.14 354.46,273.64 353.72,272.64 352.97,273.81 352.23,273.33 351.48,275.32 350.74,276.75 349.99,275.70 349.25,274.43 348.50,277.62 347.76,276.08 347.02,277.01 346.29,276.65 345.55,277.83 344.81,277.98 344.08,277.63 343.34,277.48 342.60,278.69 341.90,279.21 341.20,279.62 340.50,280.02 339.80,280.29 339.10,280.27 338.40,281.54 337.70,282.07 337.00,282.58 336.30,283.05 335.60,283.19 334.89,284.48 334.18,285.27 333.47,283.99 332.76,285.95 332.05,285.95 331.34,286.05 330.63,287.01 329.92,287.64 329.21,286.78 328.50,288.21 327.80,288.74 327.10,289.13 326.40,289.62 325.70,290.22 325.00,291.67 324.30,291.72 323.60,292.01 322.90,292.82 322.20,292.62 321.50,294.20 320.79,294.71 320.08,296.13 319.37,296.07 318.66,297.62 317.95,298.08 317.24,299.53 316.53,299.00 315.82,299.40 315.11,298.92 314.40,299.78 313.70,300.45 313.00,303.04 312.30,301.79 311.60,302.34 310.90,302.23 310.20,303.50 309.50,304.25 308.80,304.82 308.10,306.28 307.40,307.94 306.64,306.43 305.89,307.64 305.13,308.43 304.38,308.62 303.62,309.12 302.87,310.27 302.11,309.72 301.36,311.52 300.60,311.34" fill="#c8c8c8"/>
<polygon points="300.60,310.16 301.36,308.07 302.11,307.01 302.87,307.36 303.62,307.18 304.38,305.40 305.13,305.96 305.89,304.37 306.64,304.72 307.40,304.53 308.13,303.42 308.87,300.79 309.60,301.70 310.33,300.79 311.07,299.29 311.80,299.12 312.53,298.63 313.27,296.78 314.00,296.37 314.75,295.24 315.50,295.33 316.25,292.14 317.00,293.13 317.75,290.85 318.50,290.74 319.25,288.99 320.00,288.43 320.75,288.17 321.50,287.26 322.20,285.24 322.90,286.03 323.60,284.85 324.30,285.04 325.00,283.20 325.70,282.88 326.40,281.83 327.10,282.27 327.80,280.61 328.50,280.05 329.21,280.89 329.92,279.24 330.63,279.42 331.34,278.21 332.05,278.22 332.76,275.97 333.47,276.54 334.18,275.48 334.89,274.68 335.60,274.47 336.30,275.50 337.00,274.19 337.70,272.23 338.40,273.87 339.10,272.51 339.80,272.69 340.50,272.22 341.20,270.70 341.90,269.95 342.60,270.11 343.34,270.98 344.08,270.38 344.81,268.57 345.55,269.45 346.29,268.63 347.02,268.80 347.76,268.25 348.50,267.68 349.20,266.94 349.90,267.29 350.60,267.52 351.30,267.83 352.00,268.16 352.70,266.89 353.40,268.36 354.10,267.05 354.80,267.35 355.50,267.82 356.20,267.44 356.90,266.61 357.60,266.09 358.30,266.63 359.00,266.28 359.72,268.17 360.45,267.83 361.17,268.21 361.89,267.13 362.62,267.07 363.34,267.32 364.06,266.85 364.78,266.06 365.51,266.32 366.23,267.90 366.95,265.12 367.68,265.47 368.40,265.40 369.12,266.42 369.83,266.58 370.55,265.86 371.27,266.58 371.99,265.89 372.70,266.04 373.42,265.22 374.14,265.84 374.86,265.85 375.57,267.21 376.29,267.86 377.01,265.43 377.73,266.40 378.44,265.83 379.16,265.95 379.88,266.21 380.60,266.09 381.31,266.28 382.03,264.61 382.75,264.33 383.47,266.40 384.18,266.06 384.90,264.56 384.90,276.01 384.18,276.25 383.47,275.61 382.75,275.68 382.03,276.74 381.31,277.36 380.60,277.28 379.88,275.65 379.16,275.39 378.44,276.67 377.73,277.14 377.01,277.80 376.29,277.57 375.57,276.98 374.86,277.36 374.14,275.29 373.42,275.05 372.70,276.35 371.99,275.79 371.27,276.17 370.55,275.58 369.83,275.36 369.12,275.59 368.40,275.07 367.68,276.82 366.95,274.67 366.23,275.52 365.51,275.39 364.78,275.06 364.06,274.56 363.34,275.21 362.62,275.82 361.89,275.99 361.17,275.74 360.45,275.07 359.72,275.40 359.00,276.04 358.30,274.52 357.60,276.28 356.90,275.40 356.20,275.23 355.50,275.93 354.80,276.03 354.10,274.85 353.40,275.54 352.70,275.68 352.00,276.03 351.30,275.32 350.60,275.26 349.90,275.57 349.20,275.30 348.50,274.86 347.76,275.04 347.02,277.06 346.29,276.13 345.55,275.45 344.81,276.44 344.08,276.45 343.34,276.53 342.60,277.02 341.90,277.06 341.20,277.96 340.50,278.89 339.80,279.54 339.10,278.47 338.40,278.98 337.70,278.52 337.00,278.78 336.30,280.95 335.60,280.90 334.89,280.25 334.18,281.13 333.47,282.94 332.76,281.49 332.05,282.50 331.34,284.10 330.63,283.98 329.92,285.04 329.21,284.48 328.50,284.28 327.80,285.06 327.10,285.93 326.40,286.12 325.70,286.77 325.00,288.40 324.30,287.86 323.60,289.36 322.90,289.66 322.20,290.87 321.50,291.25 320.75,292.03 320.00,293.98 319.25,293.93 318.50,293.67 317.75,294.77 317.00,295.75 316.25,296.12 315.50,298.68 314.75,299.06 314.00,298.51 313.27,299.27 312.53,300.35 311.80,302.04 311.07,303.29 310.33,304.15 309.60,302.38 308.87,303.74 308.13,305.79 307.40,305.90 306.64,305.76 305.89,306.90 305.13,307.57 304.38,309.36 303.62,308.37 302.87,309.79 302.11,308.29 301.36,310.47 300.60,311.85" fill="#c8c8c8"/>
<polyline points="300.60,310.10 301.36,309.09 302.11,308.71 302.87,308.27 303.62,307.94 304.38,307.69 305.13,306.96 305.89,306.27 306.64,305.56 307.40,304.88 308.13,304.01 308.87,302.90 309.60,302.18 310.33,301.59 311.07,300.86 311.80,300.24 312.53,299.21 313.27,298.47 314.00,297.92 314.75,297.15 315.50,296.30 316.25,295.06 317.00,294.03 317.75,293.17 318.50,292.01 319.25,291.79 320.00,290.87 320.75,290.46 321.50,288.77 322.20,288.21 322.90,287.75 323.60,287.33 324.30,286.48 325.00,285.57 325.70,284.84 326.40,284.21 327.10,283.56 327.80,283.19 328.50,282.48 329.21,282.20 329.92,281.69 330.63,281.56 331.34,281.21 332.05,280.72 332.76,279.95 333.47,279.18 334.18,278.60 334.89,278.35 335.60,278.13 336.30,277.72 337.00,276.86 337.70,276.07 338.40,275.83 339.10,275.96 339.80,275.99 340.50,275.21 341.20,274.53 341.90,274.09 342.60,273.80 343.34,273.60 344.08,273.18 344.81,272.87 345.55,272.19 346.29,272.09 347.02,272.03 347.76,271.79 348.50,271.05 349.20,271.17 349.90,271.51 350.60,271.67 351.30,271.82 352.00,271.62 352.70,271.46 353.40,271.34 354.10,271.37 354.80,271.68 355.50,271.44 356.20,271.26 356.90,270.92 357.60,270.86 358.30,271.41 359.00,271.45 359.72,271.80 360.45,271.53 361.17,271.51 361.89,271.26 362.62,271.34 363.34,271.39 364.06,270.85 364.78,270.80 365.51,270.75 366.23,271.33 366.95,270.82 367.68,271.04 368.40,270.76 369.12,270.83 369.83,270.79 370.55,270.99 371.27,271.17 371.99,270.94 372.70,270.93 373.42,270.64 374.14,271.00 374.86,271.04 375.57,271.79 376.29,271.85 377.01,271.79 377.73,271.45 378.44,271.24 379.16,270.84 379.88,271.09 380.60,271.18 381.31,271.39 382.03,270.78 382.75,270.98 383.47,271.14 384.18,271.11 384.90,270.90" fill="none" stroke="#000" stroke-width="1.7" stroke-linejoin="round" stroke-linecap="round"/>
<polyline points="300.60,310.10 301.36,310.64 302.11,309.91 302.87,309.16 303.62,308.73 304.38,308.05 305.13,307.14 305.89,306.39 306.64,305.46 307.40,305.48 308.10,304.77 308.80,303.85 309.50,302.73 310.20,302.13 310.90,302.00 311.60,301.69 312.30,300.98 313.00,300.16 313.70,298.82 314.40,298.14 315.11,297.39 315.82,296.92 316.53,297.00 317.24,296.50 317.95,295.52 318.66,294.51 319.37,293.92 320.08,293.63 320.79,292.62 321.50,291.89 322.20,291.16 322.90,290.63 323.60,289.98 324.30,289.45 325.00,288.27 325.70,287.31 326.40,286.09 327.10,285.76 327.80,285.27 328.50,284.63 329.21,284.07 329.92,284.05 330.63,284.01 331.34,283.11 332.05,281.96 332.76,281.34 333.47,281.14 334.18,280.79 334.89,280.46 335.60,280.08 336.30,279.23 337.00,278.65 337.70,278.07 338.40,277.91 339.10,277.11 339.80,276.32 340.50,275.50 341.20,275.09 341.90,274.69 342.60,273.85 343.34,273.80 344.08,273.33 344.81,273.40 345.55,272.81 346.29,272.05 347.02,272.14 347.76,271.37 348.50,271.71 349.25,270.93 349.99,270.89 350.74,270.43 351.48,270.23 352.23,269.37 352.97,268.66 353.72,268.33 354.46,268.83 355.21,268.74 355.95,268.57 356.70,267.94 357.42,267.92 358.15,267.76 358.87,267.06 359.59,266.73 360.32,266.16 361.04,266.18 361.76,265.62 362.48,265.19 363.21,264.73 363.93,264.39 364.65,264.95 365.38,265.36 366.10,265.37 366.80,264.62 367.50,263.64 368.20,262.64 368.90,261.69 369.60,261.67 370.30,262.44 371.00,262.59 371.70,262.00 372.40,261.27 373.10,260.73 373.84,260.28 374.58,259.94 375.31,259.74 376.05,259.53 376.79,259.02 377.52,258.53 378.26,258.45 379.00,258.68 379.74,258.27 380.48,258.19 381.21,256.84 381.95,256.38 382.69,254.93 383.42,254.71 384.16,254.08 384.90,253.93" fill="none" stroke="#000" stroke-width="1.7" stroke-linejoin="round" stroke-linecap="round"/>
<text transform="translate(374.90 247.30) scale(0.1)" font-size="64.0" text-anchor="middle" font-weight="bold" fill="#000" stroke="#000" stroke-width="2.20">WT</text>
<text transform="translate(372.40 284.30) scale(0.1)" font-size="66.0" text-anchor="middle" font-weight="bold" font-style="italic" fill="#000" stroke="#000" stroke-width="2.20">light ear</text>
<line x1="454.40" y1="233.90" x2="454.40" y2="312.10" stroke="#000" stroke-width="1.0"/>
<line x1="453.90" y1="311.60" x2="511.50" y2="311.60" stroke="#000" stroke-width="1.0"/>
<line x1="452.40" y1="311.60" x2="454.40" y2="311.60" stroke="#000" stroke-width="1.0"/>
<text transform="translate(451.80 313.90) scale(0.1)" font-size="64.0" text-anchor="end" font-weight="bold" fill="#000" stroke="#000" stroke-width="2.20">0</text>
<line x1="452.40" y1="296.06" x2="454.40" y2="296.06" stroke="#000" stroke-width="1.0"/>
<text transform="translate(451.80 298.36) scale(0.1)" font-size="64.0" text-anchor="end" font-weight="bold" fill="#000" stroke="#000" stroke-width="2.20">50</text>
<line x1="452.40" y1="280.52" x2="454.40" y2="280.52" stroke="#000" stroke-width="1.0"/>
<text transform="translate(451.80 282.82) scale(0.1)" font-size="64.0" text-anchor="end" font-weight="bold" fill="#000" stroke="#000" stroke-width="2.20">100</text>
<line x1="452.40" y1="264.98" x2="454.40" y2="264.98" stroke="#000" stroke-width="1.0"/>
<text transform="translate(451.80 267.28) scale(0.1)" font-size="64.0" text-anchor="end" font-weight="bold" fill="#000" stroke="#000" stroke-width="2.20">150</text>
<line x1="452.40" y1="249.44" x2="454.40" y2="249.44" stroke="#000" stroke-width="1.0"/>
<text transform="translate(451.80 251.74) scale(0.1)" font-size="64.0" text-anchor="end" font-weight="bold" fill="#000" stroke="#000" stroke-width="2.20">200</text>
<line x1="452.40" y1="233.90" x2="454.40" y2="233.90" stroke="#000" stroke-width="1.0"/>
<text transform="translate(451.80 236.20) scale(0.1)" font-size="64.0" text-anchor="end" font-weight="bold" fill="#000" stroke="#000" stroke-width="2.20">250</text>
<text transform="translate(436.60 269.20) rotate(-90) scale(0.1)" font-size="70.0" text-anchor="middle" font-weight="bold" fill="#000" stroke="#000" stroke-width="2.20">CD62p peak area (μm<tspan baseline-shift="super" font-size="43.0">2</tspan>)</text>
<line x1="469.15" y1="250.06" x2="469.15" y2="243.22" stroke="#000" stroke-width="0.9"/>
<line x1="464.76" y1="243.22" x2="473.54" y2="243.22" stroke="#000" stroke-width="0.9"/>
<rect x="459.85" y="250.51" width="18.60" height="61.09" fill="#fff" stroke="#000" stroke-width="0.9"/>
<line x1="497.10" y1="265.60" x2="497.10" y2="260.32" stroke="#000" stroke-width="0.9"/>
<line x1="492.56" y1="260.32" x2="501.65" y2="260.32" stroke="#000" stroke-width="0.9"/>
<rect x="487.45" y="266.05" width="19.30" height="45.55" fill="#000" stroke="#000" stroke-width="0.9"/>
<text transform="translate(469.00 318.80) scale(0.1)" font-size="63.0" text-anchor="middle" font-weight="bold" fill="#000" stroke="#000" stroke-width="2.20">WT</text>
<text transform="translate(497.20 318.80) scale(0.1)" font-size="63.0" text-anchor="middle" font-weight="bold" font-style="italic" fill="#000" stroke="#000" stroke-width="2.20">light ear</text>
</g></svg>
</div></body></html>
